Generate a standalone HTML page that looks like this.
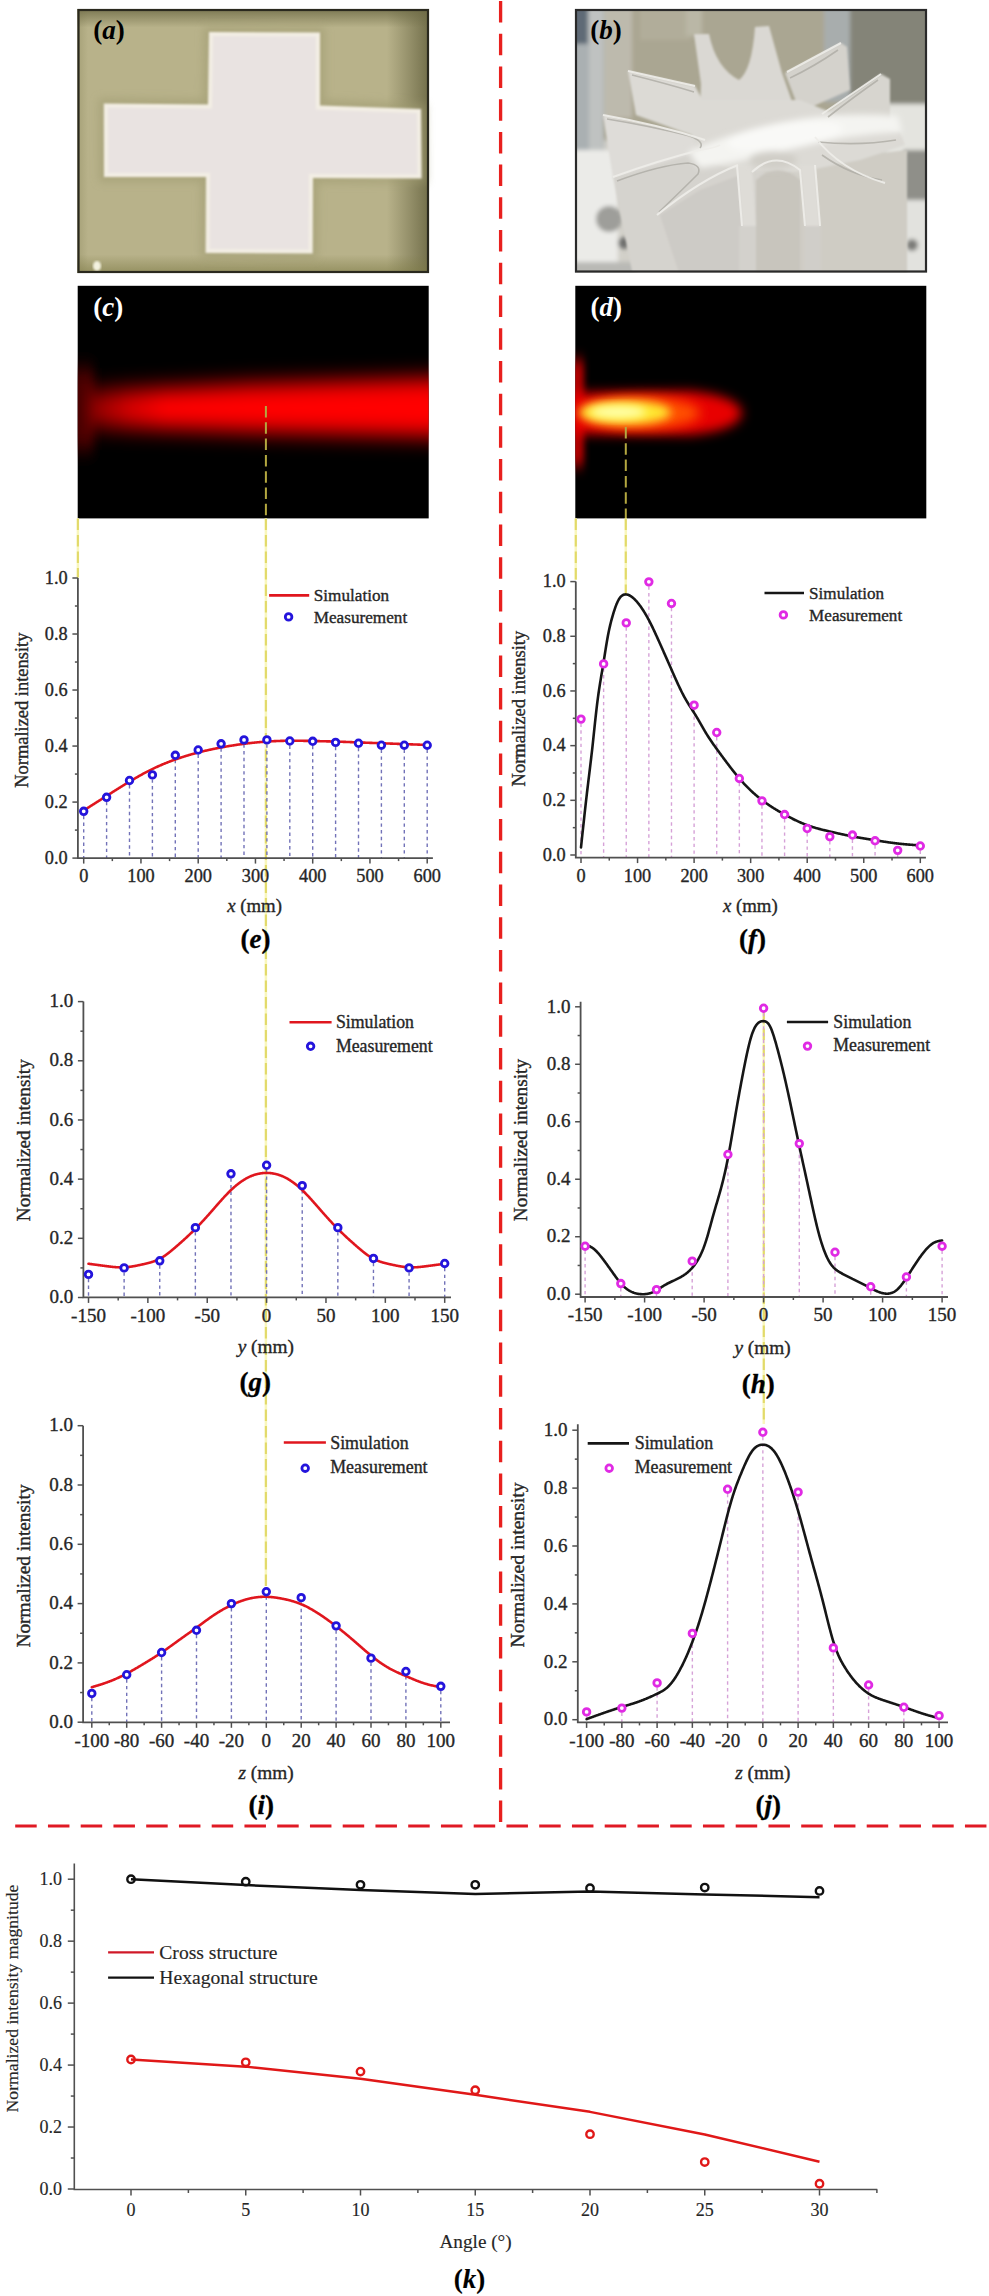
<!DOCTYPE html>
<html><head><meta charset="utf-8"><title>Figure</title>
<style>
html,body{margin:0;padding:0;background:#fff;}
body{width:989px;height:2296px;overflow:hidden;}
svg{display:block;}
text{font-family:"Liberation Serif",serif;} .c text{stroke:#262626;stroke-width:0.35px;paint-order:stroke;} .k text{stroke:#262626;stroke-width:0.15px;paint-order:stroke;}
</style></head><body>
<svg width="989" height="2296" viewBox="0 0 989 2296">

<defs>
 <linearGradient id="pa_bg" x1="0" y1="0" x2="1" y2="0">
  <stop offset="0" stop-color="#a5a27a"/><stop offset="0.5" stop-color="#aca97f"/><stop offset="0.88" stop-color="#a29f74"/><stop offset="1" stop-color="#6e6c4c"/>
 </linearGradient>
 <radialGradient id="pa_vig" cx="0.45" cy="0.45" r="0.75">
  <stop offset="0.6" stop-color="#000" stop-opacity="0"/><stop offset="1" stop-color="#2a2a10" stop-opacity="0.35"/>
 </radialGradient>
 <linearGradient id="pb_bg" x1="0" y1="0" x2="1" y2="0">
  <stop offset="0" stop-color="#7f8789"/><stop offset="0.08" stop-color="#a8aaa4"/><stop offset="0.3" stop-color="#b3ae9c"/><stop offset="0.7" stop-color="#bdbab0"/><stop offset="1" stop-color="#c8c7c0"/>
 </linearGradient>
 <linearGradient id="pa_lr" x1="0" y1="0" x2="1" y2="0">
  <stop offset="0" stop-color="#9a966c" stop-opacity="0.6"/><stop offset="0.03" stop-color="#9a966c" stop-opacity="0"/><stop offset="0.88" stop-color="#6e6b48" stop-opacity="0"/><stop offset="1" stop-color="#66633f" stop-opacity="0.85"/>
 </linearGradient>
 <linearGradient id="pa_tb" x1="0" y1="0" x2="0" y2="1">
  <stop offset="0" stop-color="#6c6944" stop-opacity="0.8"/><stop offset="0.07" stop-color="#6c6944" stop-opacity="0"/><stop offset="0.93" stop-color="#7d7a45" stop-opacity="0"/><stop offset="1" stop-color="#7d7a45" stop-opacity="0.6"/>
 </linearGradient>
 <linearGradient id="pb_left" x1="0" y1="0" x2="0.35" y2="1">
  <stop offset="0" stop-color="#55606a"/><stop offset="0.6" stop-color="#8d9598"/><stop offset="1" stop-color="#b4b8b7"/>
 </linearGradient>
 <filter id="blur3" x="-20%" y="-20%" width="140%" height="140%"><feGaussianBlur stdDeviation="3"/></filter>
 <clipPath id="clipb"><rect x="575" y="9" width="352" height="263.5"/></clipPath>
 <linearGradient id="beamc" gradientUnits="userSpaceOnUse" x1="84" y1="0" x2="260" y2="0">
  <stop offset="0" stop-color="#600000"/><stop offset="0.09" stop-color="#a00000"/><stop offset="0.26" stop-color="#d80000"/><stop offset="0.46" stop-color="#ff0000"/><stop offset="1" stop-color="#ff0000"/>
 </linearGradient>
 <filter id="blurc1" x="-50%" y="-50%" width="200%" height="200%"><feGaussianBlur stdDeviation="5 9"/></filter>
 <filter id="blurc2" x="-20%" y="-80%" width="140%" height="260%"><feGaussianBlur stdDeviation="5 10.5"/></filter>
 <filter id="blurd1" x="-50%" y="-50%" width="200%" height="200%"><feGaussianBlur stdDeviation="3 7"/></filter>
 <filter id="blur2" x="-20%" y="-20%" width="140%" height="140%"><feGaussianBlur stdDeviation="2"/></filter>
 <filter id="soft05" x="-20%" y="-20%" width="140%" height="140%"><feGaussianBlur stdDeviation="0.6"/></filter>
 <filter id="soft1" x="-5%" y="-5%" width="110%" height="110%"><feGaussianBlur stdDeviation="1.2"/></filter>
 <filter id="blur4" x="-50%" y="-50%" width="200%" height="200%"><feGaussianBlur stdDeviation="4"/></filter>
 <filter id="blur5" x="-50%" y="-50%" width="200%" height="200%"><feGaussianBlur stdDeviation="5"/></filter>
 <filter id="blur6" x="-50%" y="-50%" width="200%" height="200%"><feGaussianBlur stdDeviation="6"/></filter>
 <filter id="blur8" x="-50%" y="-50%" width="200%" height="200%"><feGaussianBlur stdDeviation="8"/></filter>
 <clipPath id="clipc"><rect x="77.7" y="285.8" width="351" height="232.6"/></clipPath>
 <clipPath id="clipd"><rect x="575.3" y="285.8" width="351" height="232.6"/></clipPath>
</defs>
<rect x="77.5" y="9" width="351.5" height="264" fill="#b8b28a"/>
<rect x="77.5" y="9" width="351.5" height="264" fill="url(#pa_lr)"/>
<rect x="77.5" y="9" width="351.5" height="264" fill="url(#pa_tb)"/>
<g filter="url(#blur4)" opacity="0.55">
<path d="M204,27 L325,27.5 L325,100 L426,104 L426.5,183.5 L318,183 L317.7,258.6 L200.6,258 L201,182 L99,182 L98.8,98.6 L203,99.5 Z" fill="#9e9a70"/>
</g>
<g filter="url(#soft1)">
<path d="M209,32 L320,32.5 L320,105.5 L421,109 L421.6,178.6 L313,178 L312.7,253.6 L205.6,253 L206,177 L104,177 L103.8,103.6 L208,104.5 Z" fill="#f3eee4"/>
<path d="M213,36 L316,36.5 L316,109.5 L417,113 L417.6,174.6 L309,174 L308.7,249.6 L209.6,249 L210,173 L108,173 L107.8,107.6 L212,108.5 Z" fill="#e9e3e1"/>
</g>
<ellipse cx="97" cy="266" rx="4" ry="5" fill="#f4f2e0" filter="url(#soft1)"/>
<rect x="78.5" y="10" width="349.5" height="262" fill="none" stroke="#2a291e" stroke-width="2.2"/>
<g clip-path="url(#clipb)">
<rect x="575" y="9" width="352" height="263.5" fill="#d2d0c9"/>
<g filter="url(#blur2)">
<rect x="598" y="0" width="256" height="140" fill="#aaa692"/>
<rect x="602" y="0" width="30" height="118" fill="#bdbaad"/>
<rect x="640" y="0" width="50" height="40" fill="#b1ad9a"/>
<rect x="686" y="0" width="16" height="36" fill="#bab7a6"/>
<rect x="824" y="0" width="28" height="102" fill="#a8adad"/>
<rect x="850" y="0" width="90" height="108" fill="#848478"/>
<rect x="886" y="104" width="50" height="50" fill="#e4e4df"/>
<rect x="904" y="150" width="30" height="52" fill="#8f8f89"/>
<rect x="904" y="200" width="30" height="80" fill="#e2e2de"/>
<circle cx="912" cy="245" r="6" fill="#7c7c78"/>
<rect x="570" y="0" width="34" height="154" fill="#aab0b2"/>
<rect x="589" y="0" width="14" height="154" fill="#bfc2c1"/>
<rect x="570" y="0" width="18" height="44" fill="#5e6a76"/>
<rect x="570" y="150" width="48" height="130" fill="#ebebe8"/>
<ellipse cx="609" cy="219" rx="13" ry="13" fill="#9e9e9a"/>
<circle cx="624" cy="243" r="6" fill="#70706e"/>
<rect x="570" y="262" width="66" height="14" fill="#b9b9b5"/>
</g>
<g filter="url(#soft1)">
<path d="M785,73 L841,43 L847,47 L850,90 L800,112 Z" fill="#d4d2cc"/>
<path d="M822,115 L881,74 L890,79 L890,127 L850,137 Z" fill="#d7d5cf"/>
<path d="M628,71 L695,86 L705,105 L705,140 L636,115 Z" fill="#dcdad5"/>
<path d="M603,115 L680,132 L712,145 L700,160 L613,178 Z" fill="#dedcd8"/>
<path d="M613,177 L700,152 L765,160 L758,276 L633,276 Z" fill="#d5d3ce"/>
<path d="M660,215 L700,190 L740,175 L745,276 L680,276 Z" fill="#cdcbc6"/>
<path d="M800,165 L907,150 L907,276 L800,276 Z" fill="#cfccc4"/>
<path d="M694,34 L709,34 Q716,68 739,80 Q752,70 755,27 L769,26 L782,73 L795,110 L700,110 L701,84 Z" fill="#dad8d3"/>
<path d="M700,100 L800,100 L850,120 L900,132 L905,145 L860,160 L800,172 L740,170 L700,160 L690,130 Z" fill="#dcdad5"/>
<path d="M756,180 Q778,160 800,180 L800,276 L756,276 Z" fill="#c8c5bd"/>
<path d="M737,165 L752,165 L756,226 L742,226 Z" fill="#dedcd7"/>
<path d="M800,165 L815,165 L820,226 L805,226 Z" fill="#dedcd7"/>
<rect x="739" y="226" width="17" height="50" fill="#d3d1cc"/>
<rect x="804" y="226" width="17" height="50" fill="#d0cec9"/>
</g>
<g filter="url(#blur3)">
<path d="M688,152 Q740,128 800,119 Q850,112 898,116 L902,132 Q850,134 800,147 Q750,160 700,168 Z" fill="#f4f4f1"/>
<ellipse cx="785" cy="136" rx="58" ry="13" fill="#f9f9f7" transform="rotate(-8 785 136)"/>
<ellipse cx="773" cy="160" rx="24" ry="9" fill="#d0cec7"/>
</g>
<g fill="none" stroke="#aeaca5" stroke-width="1.6" opacity="0.8" filter="url(#soft05)">
<path d="M617,181 Q660,165 688,163 Q702,165 698,174 Q680,192 659,212"/>
<path d="M607,119 Q650,126 690,136 Q705,142 700,148"/>
<path d="M632,75 Q668,84 694,92"/>
<path d="M818,142 Q860,146 896,140 M822,155 Q850,175 882,180"/>
<path d="M790,78 Q815,66 838,50 M828,117 Q855,96 878,80"/>
</g>
<g fill="none" stroke="#efeeea" stroke-width="2" opacity="0.9" filter="url(#soft05)">
<path d="M628,71 L695,86"/><path d="M603,115 Q660,125 705,140"/>
<path d="M613,177 Q660,160 700,150 Q715,148 720,145"/>
<path d="M657,215 Q700,180 738,165"/>
<path d="M841,43 L787,72"/><path d="M881,74 L822,114"/>
<path d="M815,137 Q840,170 885,183"/>
<path d="M737,165 L742,226 M752,172 Q775,150 800,170 L805,226 M815,165 L820,226"/>
</g>
</g>
<rect x="576" y="10" width="350" height="261.5" fill="none" stroke="#2a2a2a" stroke-width="2.2"/>
<rect x="77.7" y="285.8" width="351" height="232.6" fill="#000"/>
<g clip-path="url(#clipc)">
<rect x="70" y="368" width="24" height="82" fill="#480000" filter="url(#blurc1)"/>
<path d="M84,391 L170,388 L250,384 L440,378 L440,437 L250,432 L170,429 L84,427 Z" fill="url(#beamc)" filter="url(#blurc2)"/>
</g>
<rect x="575.3" y="285.8" width="351" height="232.6" fill="#000"/>
<g clip-path="url(#clipd)">
<rect x="568" y="360" width="16" height="106" fill="#b00000" filter="url(#blurd1)"/>
<path d="M570,393 L690,391 Q740,396 742,413 Q740,430 690,435 L570,434 Z" fill="#e80000" filter="url(#blur6)"/>
<ellipse cx="640" cy="413" rx="60" ry="16" fill="#ff5000" filter="url(#blur6)"/>
<ellipse cx="625" cy="412.5" rx="46" ry="12" fill="#ffe830" filter="url(#blur5)"/>
<ellipse cx="618" cy="412" rx="28" ry="6.5" fill="#ffffa8" filter="url(#blur4)"/>
</g>
<text x="93.2" y="39" font-size="27" font-weight="bold" fill="#000">(<tspan font-style="italic">a</tspan>)</text>
<text x="590.3" y="39" font-size="27" font-weight="bold" fill="#000">(<tspan font-style="italic">b</tspan>)</text>
<text x="93.3" y="316" font-size="27" font-weight="bold" fill="#fff">(<tspan font-style="italic">c</tspan>)</text>
<text x="590.6" y="316" font-size="27" font-weight="bold" fill="#fff">(<tspan font-style="italic">d</tspan>)</text>
<line x1="265.9" y1="406" x2="265.9" y2="518.4" stroke="#b4a840" stroke-width="2" stroke-dasharray="11.5 4.8"/>
<line x1="265.9" y1="518.4" x2="265.9" y2="1586" stroke="#f9f7bc" stroke-width="2.5"/>
<line x1="265.9" y1="518.4" x2="265.9" y2="1586" stroke="#e2da6a" stroke-width="2.1" stroke-dasharray="11.5 5"/>
<line x1="77.9" y1="518.4" x2="77.9" y2="577.5" stroke="#f9f7bc" stroke-width="2.5"/>
<line x1="77.9" y1="518.4" x2="77.9" y2="577.5" stroke="#e2da6a" stroke-width="2.1" stroke-dasharray="11.5 5"/>
<line x1="575.8" y1="518.4" x2="575.8" y2="580" stroke="#f9f7bc" stroke-width="2.5"/>
<line x1="575.8" y1="518.4" x2="575.8" y2="580" stroke="#e2da6a" stroke-width="2.1" stroke-dasharray="11.5 5"/>
<line x1="625.8" y1="427" x2="625.8" y2="518.4" stroke="#b4a840" stroke-width="2" stroke-dasharray="11.5 4.8"/>
<line x1="625.8" y1="518.4" x2="625.8" y2="595" stroke="#f9f7bc" stroke-width="2.5"/>
<line x1="625.8" y1="518.4" x2="625.8" y2="595" stroke="#e2da6a" stroke-width="2.1" stroke-dasharray="11.5 5"/>
<line x1="763.8" y1="1012" x2="763.8" y2="1424" stroke="#f9f7bc" stroke-width="2.5"/>
<line x1="763.8" y1="1012" x2="763.8" y2="1424" stroke="#e2da6a" stroke-width="2.1" stroke-dasharray="11.5 5"/>
<g class="c">
<line x1="83.7" y1="815.82" x2="83.7" y2="858.1" stroke="#7272b8" stroke-width="1.4" stroke-dasharray="3.4 3.3"/>
<line x1="106.6" y1="801.82" x2="106.6" y2="858.1" stroke="#7272b8" stroke-width="1.4" stroke-dasharray="3.4 3.3"/>
<line x1="129.5" y1="785.01" x2="129.5" y2="858.1" stroke="#7272b8" stroke-width="1.4" stroke-dasharray="3.4 3.3"/>
<line x1="152.4" y1="779.41" x2="152.4" y2="858.1" stroke="#7272b8" stroke-width="1.4" stroke-dasharray="3.4 3.3"/>
<line x1="175.3" y1="759.8" x2="175.3" y2="858.1" stroke="#7272b8" stroke-width="1.4" stroke-dasharray="3.4 3.3"/>
<line x1="198.2" y1="754.48" x2="198.2" y2="858.1" stroke="#7272b8" stroke-width="1.4" stroke-dasharray="3.4 3.3"/>
<line x1="221.1" y1="748.32" x2="221.1" y2="858.1" stroke="#7272b8" stroke-width="1.4" stroke-dasharray="3.4 3.3"/>
<line x1="244" y1="744.4" x2="244" y2="858.1" stroke="#7272b8" stroke-width="1.4" stroke-dasharray="3.4 3.3"/>
<line x1="266.9" y1="744.4" x2="266.9" y2="858.1" stroke="#7272b8" stroke-width="1.4" stroke-dasharray="3.4 3.3"/>
<line x1="289.8" y1="745.52" x2="289.8" y2="858.1" stroke="#7272b8" stroke-width="1.4" stroke-dasharray="3.4 3.3"/>
<line x1="312.7" y1="745.8" x2="312.7" y2="858.1" stroke="#7272b8" stroke-width="1.4" stroke-dasharray="3.4 3.3"/>
<line x1="335.6" y1="746.92" x2="335.6" y2="858.1" stroke="#7272b8" stroke-width="1.4" stroke-dasharray="3.4 3.3"/>
<line x1="358.5" y1="747.76" x2="358.5" y2="858.1" stroke="#7272b8" stroke-width="1.4" stroke-dasharray="3.4 3.3"/>
<line x1="381.4" y1="749.72" x2="381.4" y2="858.1" stroke="#7272b8" stroke-width="1.4" stroke-dasharray="3.4 3.3"/>
<line x1="404.3" y1="749.72" x2="404.3" y2="858.1" stroke="#7272b8" stroke-width="1.4" stroke-dasharray="3.4 3.3"/>
<line x1="427.2" y1="749.72" x2="427.2" y2="858.1" stroke="#7272b8" stroke-width="1.4" stroke-dasharray="3.4 3.3"/>
<path d="M77.9,578 V858.1 H432.9" fill="none" stroke="#505050" stroke-width="1.8"/>
<line x1="72.4" y1="858.1" x2="77.9" y2="858.1" stroke="#505050" stroke-width="1.5"/>
<text x="67.7" y="863.8" text-anchor="end" font-size="18.3" fill="#262626">0.0</text>
<line x1="74.9" y1="830.09" x2="77.9" y2="830.09" stroke="#505050" stroke-width="1.5"/>
<line x1="72.4" y1="802.08" x2="77.9" y2="802.08" stroke="#505050" stroke-width="1.5"/>
<text x="67.7" y="807.78" text-anchor="end" font-size="18.3" fill="#262626">0.2</text>
<line x1="74.9" y1="774.07" x2="77.9" y2="774.07" stroke="#505050" stroke-width="1.5"/>
<line x1="72.4" y1="746.06" x2="77.9" y2="746.06" stroke="#505050" stroke-width="1.5"/>
<text x="67.7" y="751.76" text-anchor="end" font-size="18.3" fill="#262626">0.4</text>
<line x1="74.9" y1="718.05" x2="77.9" y2="718.05" stroke="#505050" stroke-width="1.5"/>
<line x1="72.4" y1="690.04" x2="77.9" y2="690.04" stroke="#505050" stroke-width="1.5"/>
<text x="67.7" y="695.74" text-anchor="end" font-size="18.3" fill="#262626">0.6</text>
<line x1="74.9" y1="662.03" x2="77.9" y2="662.03" stroke="#505050" stroke-width="1.5"/>
<line x1="72.4" y1="634.02" x2="77.9" y2="634.02" stroke="#505050" stroke-width="1.5"/>
<text x="67.7" y="639.72" text-anchor="end" font-size="18.3" fill="#262626">0.8</text>
<line x1="74.9" y1="606.01" x2="77.9" y2="606.01" stroke="#505050" stroke-width="1.5"/>
<line x1="72.4" y1="578" x2="77.9" y2="578" stroke="#505050" stroke-width="1.5"/>
<text x="67.7" y="583.7" text-anchor="end" font-size="18.3" fill="#262626">1.0</text>
<line x1="83.7" y1="858.1" x2="83.7" y2="863.6" stroke="#505050" stroke-width="1.5"/>
<text x="83.7" y="882.4" text-anchor="middle" font-size="18.3" fill="#262626">0</text>
<line x1="140.95" y1="858.1" x2="140.95" y2="863.6" stroke="#505050" stroke-width="1.5"/>
<text x="140.95" y="882.4" text-anchor="middle" font-size="18.3" fill="#262626">100</text>
<line x1="198.2" y1="858.1" x2="198.2" y2="863.6" stroke="#505050" stroke-width="1.5"/>
<text x="198.2" y="882.4" text-anchor="middle" font-size="18.3" fill="#262626">200</text>
<line x1="255.45" y1="858.1" x2="255.45" y2="863.6" stroke="#505050" stroke-width="1.5"/>
<text x="255.45" y="882.4" text-anchor="middle" font-size="18.3" fill="#262626">300</text>
<line x1="312.7" y1="858.1" x2="312.7" y2="863.6" stroke="#505050" stroke-width="1.5"/>
<text x="312.7" y="882.4" text-anchor="middle" font-size="18.3" fill="#262626">400</text>
<line x1="369.95" y1="858.1" x2="369.95" y2="863.6" stroke="#505050" stroke-width="1.5"/>
<text x="369.95" y="882.4" text-anchor="middle" font-size="18.3" fill="#262626">500</text>
<line x1="427.2" y1="858.1" x2="427.2" y2="863.6" stroke="#505050" stroke-width="1.5"/>
<text x="427.2" y="882.4" text-anchor="middle" font-size="18.3" fill="#262626">600</text>
<line x1="112.33" y1="858.1" x2="112.33" y2="861.1" stroke="#505050" stroke-width="1.5"/>
<line x1="169.57" y1="858.1" x2="169.57" y2="861.1" stroke="#505050" stroke-width="1.5"/>
<line x1="226.82" y1="858.1" x2="226.82" y2="861.1" stroke="#505050" stroke-width="1.5"/>
<line x1="284.07" y1="858.1" x2="284.07" y2="861.1" stroke="#505050" stroke-width="1.5"/>
<line x1="341.32" y1="858.1" x2="341.32" y2="861.1" stroke="#505050" stroke-width="1.5"/>
<line x1="398.57" y1="858.1" x2="398.57" y2="861.1" stroke="#505050" stroke-width="1.5"/>
<path d="M83.7,810.48 L84.2,810.16 L84.7,809.85 L85.2,809.53 L85.7,809.21 L86.2,808.89 L86.7,808.57 L87.21,808.25 L87.71,807.93 L88.21,807.62 L88.71,807.3 L89.21,806.98 L89.71,806.66 L90.21,806.34 L90.71,806.02 L91.21,805.7 L91.71,805.39 L92.21,805.07 L92.71,804.75 L93.21,804.43 L93.71,804.11 L94.22,803.79 L94.72,803.48 L95.22,803.16 L95.72,802.84 L96.22,802.52 L96.72,802.2 L97.22,801.88 L97.72,801.56 L98.22,801.25 L98.72,800.93 L99.22,800.61 L99.72,800.29 L100.22,799.97 L100.72,799.65 L101.23,799.34 L101.73,799.02 L102.23,798.7 L102.73,798.38 L103.23,798.06 L103.73,797.74 L104.23,797.42 L104.73,797.11 L105.23,796.79 L105.73,796.47 L106.23,796.15 L106.73,795.83 L107.23,795.51 L107.73,795.2 L108.24,794.88 L108.74,794.56 L109.24,794.24 L109.74,793.92 L110.24,793.61 L110.74,793.29 L111.24,792.97 L111.74,792.65 L112.24,792.34 L112.74,792.02 L113.24,791.7 L113.74,791.38 L114.24,791.07 L114.75,790.75 L115.25,790.44 L115.75,790.12 L116.25,789.81 L116.75,789.49 L117.25,789.18 L117.75,788.86 L118.25,788.55 L118.75,788.23 L119.25,787.92 L119.75,787.61 L120.25,787.3 L120.75,786.99 L121.25,786.67 L121.76,786.36 L122.26,786.05 L122.76,785.74 L123.26,785.43 L123.76,785.13 L124.26,784.82 L124.76,784.51 L125.26,784.2 L125.76,783.9 L126.26,783.59 L126.76,783.29 L127.26,782.98 L127.76,782.68 L128.26,782.38 L128.77,782.07 L129.27,781.77 L129.77,781.47 L130.27,781.17 L130.77,780.87 L131.27,780.58 L131.77,780.28 L132.27,779.98 L132.77,779.69 L133.27,779.39 L133.77,779.1 L134.27,778.81 L134.77,778.51 L135.28,778.22 L135.78,777.93 L136.28,777.64 L136.78,777.36 L137.28,777.07 L137.78,776.78 L138.28,776.5 L138.78,776.22 L139.28,775.93 L139.78,775.65 L140.28,775.37 L140.78,775.1 L141.28,774.82 L141.78,774.54 L142.29,774.27 L142.79,773.99 L143.29,773.72 L143.79,773.45 L144.29,773.18 L144.79,772.91 L145.29,772.65 L145.79,772.38 L146.29,772.12 L146.79,771.86 L147.29,771.6 L147.79,771.34 L148.29,771.08 L148.79,770.82 L149.3,770.57 L149.8,770.32 L150.3,770.07 L150.8,769.82 L151.3,769.57 L151.8,769.32 L152.3,769.08 L152.8,768.83 L153.3,768.59 L153.8,768.35 L154.3,768.12 L154.8,767.88 L155.3,767.65 L155.8,767.41 L156.31,767.18 L156.81,766.95 L157.31,766.73 L157.81,766.5 L158.31,766.27 L158.81,766.05 L159.31,765.83 L159.81,765.61 L160.31,765.39 L160.81,765.18 L161.31,764.96 L161.81,764.75 L162.31,764.53 L162.82,764.32 L163.32,764.11 L163.82,763.91 L164.32,763.7 L164.82,763.49 L165.32,763.29 L165.82,763.09 L166.32,762.89 L166.82,762.69 L167.32,762.49 L167.82,762.29 L168.32,762.1 L168.82,761.9 L169.32,761.71 L169.83,761.52 L170.33,761.33 L170.83,761.14 L171.33,760.95 L171.83,760.77 L172.33,760.58 L172.83,760.4 L173.33,760.21 L173.83,760.03 L174.33,759.85 L174.83,759.67 L175.33,759.49 L175.83,759.32 L176.33,759.14 L176.84,758.96 L177.34,758.79 L177.84,758.62 L178.34,758.45 L178.84,758.28 L179.34,758.11 L179.84,757.94 L180.34,757.77 L180.84,757.61 L181.34,757.44 L181.84,757.28 L182.34,757.11 L182.84,756.95 L183.35,756.79 L183.85,756.63 L184.35,756.47 L184.85,756.32 L185.35,756.16 L185.85,756 L186.35,755.85 L186.85,755.7 L187.35,755.55 L187.85,755.39 L188.35,755.24 L188.85,755.1 L189.35,754.95 L189.85,754.8 L190.36,754.65 L190.86,754.51 L191.36,754.37 L191.86,754.22 L192.36,754.08 L192.86,753.94 L193.36,753.8 L193.86,753.66 L194.36,753.52 L194.86,753.39 L195.36,753.25 L195.86,753.12 L196.36,752.98 L196.86,752.85 L197.37,752.72 L197.87,752.59 L198.37,752.46 L198.87,752.33 L199.37,752.2 L199.87,752.08 L200.37,751.95 L200.87,751.82 L201.37,751.7 L201.87,751.58 L202.37,751.46 L202.87,751.33 L203.37,751.21 L203.87,751.09 L204.38,750.98 L204.88,750.86 L205.38,750.74 L205.88,750.62 L206.38,750.51 L206.88,750.4 L207.38,750.28 L207.88,750.17 L208.38,750.06 L208.88,749.95 L209.38,749.84 L209.88,749.73 L210.38,749.62 L210.89,749.51 L211.39,749.4 L211.89,749.3 L212.39,749.19 L212.89,749.08 L213.39,748.98 L213.89,748.88 L214.39,748.77 L214.89,748.67 L215.39,748.57 L215.89,748.47 L216.39,748.37 L216.89,748.27 L217.39,748.17 L217.9,748.07 L218.4,747.98 L218.9,747.88 L219.4,747.78 L219.9,747.69 L220.4,747.59 L220.9,747.5 L221.4,747.4 L221.9,747.31 L222.4,747.22 L222.9,747.13 L223.4,747.04 L223.9,746.94 L224.4,746.85 L224.91,746.76 L225.41,746.68 L225.91,746.59 L226.41,746.5 L226.91,746.41 L227.41,746.33 L227.91,746.24 L228.41,746.15 L228.91,746.07 L229.41,745.99 L229.91,745.9 L230.41,745.82 L230.91,745.74 L231.42,745.66 L231.92,745.57 L232.42,745.49 L232.92,745.41 L233.42,745.34 L233.92,745.26 L234.42,745.18 L234.92,745.1 L235.42,745.03 L235.92,744.95 L236.42,744.87 L236.92,744.8 L237.42,744.73 L237.92,744.65 L238.43,744.58 L238.93,744.51 L239.43,744.44 L239.93,744.37 L240.43,744.3 L240.93,744.23 L241.43,744.16 L241.93,744.09 L242.43,744.03 L242.93,743.96 L243.43,743.89 L243.93,743.83 L244.43,743.76 L244.93,743.7 L245.44,743.64 L245.94,743.57 L246.44,743.51 L246.94,743.45 L247.44,743.39 L247.94,743.33 L248.44,743.27 L248.94,743.22 L249.44,743.16 L249.94,743.1 L250.44,743.04 L250.94,742.99 L251.44,742.93 L251.94,742.88 L252.45,742.83 L252.95,742.77 L253.45,742.72 L253.95,742.67 L254.45,742.62 L254.95,742.57 L255.45,742.52 L255.95,742.47 L256.45,742.42 L256.95,742.38 L257.45,742.33 L257.95,742.28 L258.45,742.24 L258.96,742.19 L259.46,742.15 L259.96,742.11 L260.46,742.07 L260.96,742.02 L261.46,741.98 L261.96,741.94 L262.46,741.9 L262.96,741.86 L263.46,741.82 L263.96,741.79 L264.46,741.75 L264.96,741.71 L265.46,741.68 L265.97,741.64 L266.47,741.61 L266.97,741.57 L267.47,741.54 L267.97,741.51 L268.47,741.48 L268.97,741.45 L269.47,741.42 L269.97,741.39 L270.47,741.36 L270.97,741.33 L271.47,741.3 L271.97,741.27 L272.47,741.25 L272.98,741.22 L273.48,741.2 L273.98,741.17 L274.48,741.15 L274.98,741.13 L275.48,741.1 L275.98,741.08 L276.48,741.06 L276.98,741.04 L277.48,741.02 L277.98,741 L278.48,740.98 L278.98,740.96 L279.48,740.95 L279.99,740.93 L280.49,740.91 L280.99,740.9 L281.49,740.88 L281.99,740.87 L282.49,740.86 L282.99,740.85 L283.49,740.83 L283.99,740.82 L284.49,740.81 L284.99,740.8 L285.49,740.79 L285.99,740.78 L286.5,740.78 L287,740.77 L287.5,740.76 L288,740.75 L288.5,740.75 L289,740.74 L289.5,740.74 L290,740.74 L290.5,740.73 L291,740.73 L291.5,740.73 L292,740.73 L292.5,740.73 L293,740.73 L293.51,740.73 L294.01,740.73 L294.51,740.73 L295.01,740.73 L295.51,740.74 L296.01,740.74 L296.51,740.74 L297.01,740.75 L297.51,740.75 L298.01,740.76 L298.51,740.76 L299.01,740.77 L299.51,740.77 L300.01,740.78 L300.52,740.79 L301.02,740.79 L301.52,740.8 L302.02,740.81 L302.52,740.82 L303.02,740.82 L303.52,740.83 L304.02,740.84 L304.52,740.85 L305.02,740.86 L305.52,740.87 L306.02,740.88 L306.52,740.89 L307.03,740.9 L307.53,740.91 L308.03,740.92 L308.53,740.93 L309.03,740.94 L309.53,740.95 L310.03,740.96 L310.53,740.97 L311.03,740.98 L311.53,740.99 L312.03,741 L312.53,741.01 L313.03,741.03 L313.53,741.04 L314.04,741.05 L314.54,741.06 L315.04,741.07 L315.54,741.08 L316.04,741.09 L316.54,741.1 L317.04,741.11 L317.54,741.12 L318.04,741.13 L318.54,741.14 L319.04,741.16 L319.54,741.17 L320.04,741.18 L320.54,741.19 L321.05,741.2 L321.55,741.21 L322.05,741.22 L322.55,741.23 L323.05,741.25 L323.55,741.26 L324.05,741.27 L324.55,741.28 L325.05,741.29 L325.55,741.3 L326.05,741.32 L326.55,741.33 L327.05,741.34 L327.55,741.35 L328.06,741.37 L328.56,741.38 L329.06,741.39 L329.56,741.41 L330.06,741.42 L330.56,741.43 L331.06,741.45 L331.56,741.46 L332.06,741.47 L332.56,741.49 L333.06,741.5 L333.56,741.52 L334.06,741.53 L334.57,741.55 L335.07,741.56 L335.57,741.58 L336.07,741.59 L336.57,741.61 L337.07,741.62 L337.57,741.64 L338.07,741.66 L338.57,741.67 L339.07,741.69 L339.57,741.71 L340.07,741.72 L340.57,741.74 L341.07,741.76 L341.58,741.78 L342.08,741.79 L342.58,741.81 L343.08,741.83 L343.58,741.85 L344.08,741.87 L344.58,741.89 L345.08,741.9 L345.58,741.92 L346.08,741.94 L346.58,741.96 L347.08,741.98 L347.58,742 L348.08,742.02 L348.59,742.04 L349.09,742.06 L349.59,742.07 L350.09,742.09 L350.59,742.11 L351.09,742.13 L351.59,742.15 L352.09,742.17 L352.59,742.19 L353.09,742.21 L353.59,742.23 L354.09,742.25 L354.59,742.27 L355.1,742.29 L355.6,742.31 L356.1,742.33 L356.6,742.35 L357.1,742.36 L357.6,742.38 L358.1,742.4 L358.6,742.42 L359.1,742.44 L359.6,742.46 L360.1,742.48 L360.6,742.5 L361.1,742.52 L361.6,742.54 L362.11,742.56 L362.61,742.57 L363.11,742.59 L363.61,742.61 L364.11,742.63 L364.61,742.65 L365.11,742.67 L365.61,742.69 L366.11,742.7 L366.61,742.72 L367.11,742.74 L367.61,742.76 L368.11,742.78 L368.61,742.8 L369.12,742.81 L369.62,742.83 L370.12,742.85 L370.62,742.87 L371.12,742.89 L371.62,742.91 L372.12,742.92 L372.62,742.94 L373.12,742.96 L373.62,742.98 L374.12,743 L374.62,743.01 L375.12,743.03 L375.62,743.05 L376.13,743.07 L376.63,743.09 L377.13,743.1 L377.63,743.12 L378.13,743.14 L378.63,743.16 L379.13,743.18 L379.63,743.19 L380.13,743.21 L380.63,743.23 L381.13,743.25 L381.63,743.27 L382.13,743.29 L382.64,743.3 L383.14,743.32 L383.64,743.34 L384.14,743.36 L384.64,743.38 L385.14,743.4 L385.64,743.41 L386.14,743.43 L386.64,743.45 L387.14,743.47 L387.64,743.49 L388.14,743.5 L388.64,743.52 L389.14,743.54 L389.65,743.56 L390.15,743.58 L390.65,743.6 L391.15,743.62 L391.65,743.63 L392.15,743.65 L392.65,743.67 L393.15,743.69 L393.65,743.71 L394.15,743.73 L394.65,743.74 L395.15,743.76 L395.65,743.78 L396.15,743.8 L396.66,743.82 L397.16,743.84 L397.66,743.85 L398.16,743.87 L398.66,743.89 L399.16,743.91 L399.66,743.93 L400.16,743.95 L400.66,743.97 L401.16,743.98 L401.66,744 L402.16,744.02 L402.66,744.04 L403.17,744.06 L403.67,744.08 L404.17,744.09 L404.67,744.11 L405.17,744.13 L405.67,744.15 L406.17,744.17 L406.67,744.19 L407.17,744.2 L407.67,744.22 L408.17,744.24 L408.67,744.26 L409.17,744.28 L409.67,744.3 L410.18,744.32 L410.68,744.33 L411.18,744.35 L411.68,744.37 L412.18,744.39 L412.68,744.41 L413.18,744.43 L413.68,744.44 L414.18,744.46 L414.68,744.48 L415.18,744.5 L415.68,744.52 L416.18,744.54 L416.68,744.55 L417.19,744.57 L417.69,744.59 L418.19,744.61 L418.69,744.63 L419.19,744.65 L419.69,744.66 L420.19,744.68 L420.69,744.7 L421.19,744.72 L421.69,744.74 L422.19,744.76 L422.69,744.77 L423.19,744.79 L423.69,744.81 L424.2,744.83 L424.7,744.85 L425.2,744.87 L425.7,744.88 L426.2,744.9 L426.7,744.92 L427.2,744.94" fill="none" stroke="#e0161e" stroke-width="2.6" stroke-linejoin="round" stroke-linecap="round"/>
<circle cx="83.7" cy="811.32" r="3.3" fill="#fff" stroke="#2414dc" stroke-width="2.8"/>
<circle cx="106.6" cy="797.32" r="3.3" fill="#fff" stroke="#2414dc" stroke-width="2.8"/>
<circle cx="129.5" cy="780.51" r="3.3" fill="#fff" stroke="#2414dc" stroke-width="2.8"/>
<circle cx="152.4" cy="774.91" r="3.3" fill="#fff" stroke="#2414dc" stroke-width="2.8"/>
<circle cx="175.3" cy="755.3" r="3.3" fill="#fff" stroke="#2414dc" stroke-width="2.8"/>
<circle cx="198.2" cy="749.98" r="3.3" fill="#fff" stroke="#2414dc" stroke-width="2.8"/>
<circle cx="221.1" cy="743.82" r="3.3" fill="#fff" stroke="#2414dc" stroke-width="2.8"/>
<circle cx="244" cy="739.9" r="3.3" fill="#fff" stroke="#2414dc" stroke-width="2.8"/>
<circle cx="266.9" cy="739.9" r="3.3" fill="#fff" stroke="#2414dc" stroke-width="2.8"/>
<circle cx="289.8" cy="741.02" r="3.3" fill="#fff" stroke="#2414dc" stroke-width="2.8"/>
<circle cx="312.7" cy="741.3" r="3.3" fill="#fff" stroke="#2414dc" stroke-width="2.8"/>
<circle cx="335.6" cy="742.42" r="3.3" fill="#fff" stroke="#2414dc" stroke-width="2.8"/>
<circle cx="358.5" cy="743.26" r="3.3" fill="#fff" stroke="#2414dc" stroke-width="2.8"/>
<circle cx="381.4" cy="745.22" r="3.3" fill="#fff" stroke="#2414dc" stroke-width="2.8"/>
<circle cx="404.3" cy="745.22" r="3.3" fill="#fff" stroke="#2414dc" stroke-width="2.8"/>
<circle cx="427.2" cy="745.22" r="3.3" fill="#fff" stroke="#2414dc" stroke-width="2.8"/>
<line x1="269.1" y1="595.4" x2="309.2" y2="595.4" stroke="#e0161e" stroke-width="2.6"/>
<text x="313.7" y="601.4" font-size="17.2" fill="#262626">Simulation</text>
<circle cx="288.6" cy="616.9" r="3.3" fill="#fff" stroke="#2414dc" stroke-width="2.8"/>
<text x="313.7" y="622.7" font-size="17.2" fill="#262626">Measurement</text>
<text transform="translate(27.5,710.2) rotate(-90)" text-anchor="middle" font-size="18.45" fill="#262626">Normalized intensity</text>
<text x="254.6" y="911.8" text-anchor="middle" font-size="18.8" fill="#262626"><tspan font-style="italic">x</tspan> (mm)</text>
<text x="255.5" y="948" text-anchor="middle" font-size="27" font-weight="bold" fill="#000">(<tspan font-style="italic">e</tspan>)</text>
<line x1="581" y1="723.62" x2="581" y2="857.6" stroke="#d6a2d8" stroke-width="1.4" stroke-dasharray="3.4 3.3"/>
<line x1="603.62" y1="668.39" x2="603.62" y2="857.6" stroke="#d6a2d8" stroke-width="1.4" stroke-dasharray="3.4 3.3"/>
<line x1="626.24" y1="627.38" x2="626.24" y2="857.6" stroke="#d6a2d8" stroke-width="1.4" stroke-dasharray="3.4 3.3"/>
<line x1="648.86" y1="586.37" x2="648.86" y2="857.6" stroke="#d6a2d8" stroke-width="1.4" stroke-dasharray="3.4 3.3"/>
<line x1="671.48" y1="607.97" x2="671.48" y2="857.6" stroke="#d6a2d8" stroke-width="1.4" stroke-dasharray="3.4 3.3"/>
<line x1="694.1" y1="709.68" x2="694.1" y2="857.6" stroke="#d6a2d8" stroke-width="1.4" stroke-dasharray="3.4 3.3"/>
<line x1="716.72" y1="737.02" x2="716.72" y2="857.6" stroke="#d6a2d8" stroke-width="1.4" stroke-dasharray="3.4 3.3"/>
<line x1="739.34" y1="782.95" x2="739.34" y2="857.6" stroke="#d6a2d8" stroke-width="1.4" stroke-dasharray="3.4 3.3"/>
<line x1="761.96" y1="805.37" x2="761.96" y2="857.6" stroke="#d6a2d8" stroke-width="1.4" stroke-dasharray="3.4 3.3"/>
<line x1="784.58" y1="819.04" x2="784.58" y2="857.6" stroke="#d6a2d8" stroke-width="1.4" stroke-dasharray="3.4 3.3"/>
<line x1="807.2" y1="832.98" x2="807.2" y2="857.6" stroke="#d6a2d8" stroke-width="1.4" stroke-dasharray="3.4 3.3"/>
<line x1="829.82" y1="841.18" x2="829.82" y2="857.6" stroke="#d6a2d8" stroke-width="1.4" stroke-dasharray="3.4 3.3"/>
<line x1="852.44" y1="839.54" x2="852.44" y2="857.6" stroke="#d6a2d8" stroke-width="1.4" stroke-dasharray="3.4 3.3"/>
<line x1="875.06" y1="845.28" x2="875.06" y2="857.6" stroke="#d6a2d8" stroke-width="1.4" stroke-dasharray="3.4 3.3"/>
<line x1="897.68" y1="854.85" x2="897.68" y2="857.6" stroke="#d6a2d8" stroke-width="1.4" stroke-dasharray="3.4 3.3"/>
<line x1="920.3" y1="850.48" x2="920.3" y2="857.6" stroke="#d6a2d8" stroke-width="1.4" stroke-dasharray="3.4 3.3"/>
<path d="M575.8,581.6 V857.6 H925.9" fill="none" stroke="#505050" stroke-width="1.8"/>
<line x1="570.3" y1="855" x2="575.8" y2="855" stroke="#505050" stroke-width="1.5"/>
<text x="565.6" y="860.7" text-anchor="end" font-size="18.3" fill="#262626">0.0</text>
<line x1="572.8" y1="827.66" x2="575.8" y2="827.66" stroke="#505050" stroke-width="1.5"/>
<line x1="570.3" y1="800.32" x2="575.8" y2="800.32" stroke="#505050" stroke-width="1.5"/>
<text x="565.6" y="806.02" text-anchor="end" font-size="18.3" fill="#262626">0.2</text>
<line x1="572.8" y1="772.98" x2="575.8" y2="772.98" stroke="#505050" stroke-width="1.5"/>
<line x1="570.3" y1="745.64" x2="575.8" y2="745.64" stroke="#505050" stroke-width="1.5"/>
<text x="565.6" y="751.34" text-anchor="end" font-size="18.3" fill="#262626">0.4</text>
<line x1="572.8" y1="718.3" x2="575.8" y2="718.3" stroke="#505050" stroke-width="1.5"/>
<line x1="570.3" y1="690.96" x2="575.8" y2="690.96" stroke="#505050" stroke-width="1.5"/>
<text x="565.6" y="696.66" text-anchor="end" font-size="18.3" fill="#262626">0.6</text>
<line x1="572.8" y1="663.62" x2="575.8" y2="663.62" stroke="#505050" stroke-width="1.5"/>
<line x1="570.3" y1="636.28" x2="575.8" y2="636.28" stroke="#505050" stroke-width="1.5"/>
<text x="565.6" y="641.98" text-anchor="end" font-size="18.3" fill="#262626">0.8</text>
<line x1="572.8" y1="608.94" x2="575.8" y2="608.94" stroke="#505050" stroke-width="1.5"/>
<line x1="570.3" y1="581.6" x2="575.8" y2="581.6" stroke="#505050" stroke-width="1.5"/>
<text x="565.6" y="587.3" text-anchor="end" font-size="18.3" fill="#262626">1.0</text>
<line x1="581" y1="857.6" x2="581" y2="863.1" stroke="#505050" stroke-width="1.5"/>
<text x="581" y="881.9" text-anchor="middle" font-size="18.3" fill="#262626">0</text>
<line x1="637.55" y1="857.6" x2="637.55" y2="863.1" stroke="#505050" stroke-width="1.5"/>
<text x="637.55" y="881.9" text-anchor="middle" font-size="18.3" fill="#262626">100</text>
<line x1="694.1" y1="857.6" x2="694.1" y2="863.1" stroke="#505050" stroke-width="1.5"/>
<text x="694.1" y="881.9" text-anchor="middle" font-size="18.3" fill="#262626">200</text>
<line x1="750.65" y1="857.6" x2="750.65" y2="863.1" stroke="#505050" stroke-width="1.5"/>
<text x="750.65" y="881.9" text-anchor="middle" font-size="18.3" fill="#262626">300</text>
<line x1="807.2" y1="857.6" x2="807.2" y2="863.1" stroke="#505050" stroke-width="1.5"/>
<text x="807.2" y="881.9" text-anchor="middle" font-size="18.3" fill="#262626">400</text>
<line x1="863.75" y1="857.6" x2="863.75" y2="863.1" stroke="#505050" stroke-width="1.5"/>
<text x="863.75" y="881.9" text-anchor="middle" font-size="18.3" fill="#262626">500</text>
<line x1="920.3" y1="857.6" x2="920.3" y2="863.1" stroke="#505050" stroke-width="1.5"/>
<text x="920.3" y="881.9" text-anchor="middle" font-size="18.3" fill="#262626">600</text>
<line x1="609.27" y1="857.6" x2="609.27" y2="860.6" stroke="#505050" stroke-width="1.5"/>
<line x1="665.83" y1="857.6" x2="665.83" y2="860.6" stroke="#505050" stroke-width="1.5"/>
<line x1="722.38" y1="857.6" x2="722.38" y2="860.6" stroke="#505050" stroke-width="1.5"/>
<line x1="778.92" y1="857.6" x2="778.92" y2="860.6" stroke="#505050" stroke-width="1.5"/>
<line x1="835.48" y1="857.6" x2="835.48" y2="860.6" stroke="#505050" stroke-width="1.5"/>
<line x1="892.02" y1="857.6" x2="892.02" y2="860.6" stroke="#505050" stroke-width="1.5"/>
<path d="M581,847.34 L581.5,842.63 L582,837.92 L582.5,833.22 L583,828.54 L583.51,823.89 L584.01,819.27 L584.51,814.68 L585.01,810.13 L585.51,805.64 L586.01,801.2 L586.51,796.82 L587.01,792.51 L587.52,788.27 L588.02,784.09 L588.52,779.96 L589.02,775.85 L589.52,771.74 L590.02,767.62 L590.52,763.46 L591.02,759.25 L591.52,754.95 L592.03,750.57 L592.53,746.06 L593.03,741.44 L593.53,736.73 L594.03,731.97 L594.53,727.21 L595.03,722.47 L595.53,717.81 L596.04,713.26 L596.54,708.86 L597.04,704.64 L597.54,700.64 L598.04,696.87 L598.54,693.28 L599.04,689.86 L599.54,686.58 L600.04,683.42 L600.55,680.34 L601.05,677.32 L601.55,674.34 L602.05,671.37 L602.55,668.38 L603.05,665.35 L603.55,662.25 L604.05,659.11 L604.56,655.94 L605.06,652.77 L605.56,649.62 L606.06,646.52 L606.56,643.49 L607.06,640.55 L607.56,637.73 L608.06,635.06 L608.56,632.52 L609.07,630.1 L609.57,627.81 L610.07,625.62 L610.57,623.54 L611.07,621.55 L611.57,619.64 L612.07,617.81 L612.57,616.05 L613.08,614.34 L613.58,612.69 L614.08,611.1 L614.58,609.56 L615.08,608.09 L615.58,606.68 L616.08,605.35 L616.58,604.08 L617.09,602.89 L617.59,601.78 L618.09,600.75 L618.59,599.81 L619.09,598.95 L619.59,598.19 L620.09,597.5 L620.59,596.9 L621.09,596.38 L621.6,595.93 L622.1,595.55 L622.6,595.23 L623.1,594.97 L623.6,594.76 L624.1,594.61 L624.6,594.5 L625.1,594.44 L625.61,594.41 L626.11,594.43 L626.61,594.48 L627.11,594.56 L627.61,594.68 L628.11,594.83 L628.61,595.02 L629.11,595.23 L629.61,595.47 L630.12,595.75 L630.62,596.05 L631.12,596.37 L631.62,596.72 L632.12,597.1 L632.62,597.5 L633.12,597.92 L633.62,598.36 L634.13,598.82 L634.63,599.3 L635.13,599.8 L635.63,600.32 L636.13,600.87 L636.63,601.42 L637.13,602 L637.63,602.6 L638.13,603.21 L638.64,603.84 L639.14,604.49 L639.64,605.16 L640.14,605.84 L640.64,606.53 L641.14,607.25 L641.64,607.97 L642.14,608.72 L642.65,609.47 L643.15,610.25 L643.65,611.04 L644.15,611.84 L644.65,612.66 L645.15,613.49 L645.65,614.34 L646.15,615.2 L646.65,616.08 L647.16,616.97 L647.66,617.88 L648.16,618.8 L648.66,619.73 L649.16,620.68 L649.66,621.64 L650.16,622.62 L650.66,623.61 L651.17,624.61 L651.67,625.62 L652.17,626.65 L652.67,627.68 L653.17,628.73 L653.67,629.78 L654.17,630.85 L654.67,631.92 L655.17,633 L655.68,634.09 L656.18,635.18 L656.68,636.28 L657.18,637.38 L657.68,638.49 L658.18,639.6 L658.68,640.72 L659.18,641.84 L659.69,642.96 L660.19,644.08 L660.69,645.2 L661.19,646.33 L661.69,647.45 L662.19,648.58 L662.69,649.71 L663.19,650.84 L663.69,651.97 L664.2,653.1 L664.7,654.23 L665.2,655.36 L665.7,656.49 L666.2,657.63 L666.7,658.76 L667.2,659.89 L667.7,661.03 L668.21,662.17 L668.71,663.3 L669.21,664.44 L669.71,665.57 L670.21,666.71 L670.71,667.85 L671.21,668.98 L671.71,670.12 L672.22,671.26 L672.72,672.4 L673.22,673.53 L673.72,674.67 L674.22,675.8 L674.72,676.93 L675.22,678.05 L675.72,679.17 L676.22,680.29 L676.73,681.39 L677.23,682.5 L677.73,683.59 L678.23,684.68 L678.73,685.75 L679.23,686.82 L679.73,687.87 L680.23,688.92 L680.74,689.95 L681.24,690.97 L681.74,691.98 L682.24,692.97 L682.74,693.94 L683.24,694.9 L683.74,695.85 L684.24,696.77 L684.74,697.68 L685.25,698.57 L685.75,699.45 L686.25,700.31 L686.75,701.16 L687.25,702 L687.75,702.82 L688.25,703.64 L688.75,704.44 L689.26,705.24 L689.76,706.04 L690.26,706.83 L690.76,707.61 L691.26,708.39 L691.76,709.17 L692.26,709.95 L692.76,710.74 L693.26,711.52 L693.77,712.31 L694.27,713.1 L694.77,713.89 L695.27,714.7 L695.77,715.51 L696.27,716.33 L696.77,717.16 L697.27,718 L697.78,718.85 L698.28,719.71 L698.78,720.57 L699.28,721.44 L699.78,722.31 L700.28,723.19 L700.78,724.06 L701.28,724.94 L701.78,725.82 L702.29,726.7 L702.79,727.58 L703.29,728.45 L703.79,729.32 L704.29,730.18 L704.79,731.04 L705.29,731.89 L705.79,732.73 L706.3,733.56 L706.8,734.38 L707.3,735.19 L707.8,735.99 L708.3,736.78 L708.8,737.56 L709.3,738.33 L709.8,739.08 L710.3,739.83 L710.81,740.58 L711.31,741.31 L711.81,742.04 L712.31,742.76 L712.81,743.47 L713.31,744.18 L713.81,744.89 L714.31,745.59 L714.82,746.29 L715.32,746.98 L715.82,747.68 L716.32,748.37 L716.82,749.06 L717.32,749.75 L717.82,750.44 L718.32,751.12 L718.82,751.81 L719.33,752.5 L719.83,753.18 L720.33,753.87 L720.83,754.55 L721.33,755.23 L721.83,755.92 L722.33,756.6 L722.83,757.27 L723.34,757.95 L723.84,758.63 L724.34,759.3 L724.84,759.98 L725.34,760.65 L725.84,761.32 L726.34,761.99 L726.84,762.66 L727.35,763.32 L727.85,763.99 L728.35,764.65 L728.85,765.31 L729.35,765.97 L729.85,766.63 L730.35,767.28 L730.85,767.93 L731.35,768.58 L731.86,769.23 L732.36,769.87 L732.86,770.51 L733.36,771.15 L733.86,771.78 L734.36,772.41 L734.86,773.04 L735.36,773.66 L735.87,774.28 L736.37,774.9 L736.87,775.51 L737.37,776.11 L737.87,776.71 L738.37,777.31 L738.87,777.9 L739.37,778.49 L739.87,779.07 L740.38,779.64 L740.88,780.22 L741.38,780.78 L741.88,781.34 L742.38,781.9 L742.88,782.45 L743.38,782.99 L743.88,783.54 L744.39,784.07 L744.89,784.6 L745.39,785.13 L745.89,785.65 L746.39,786.17 L746.89,786.68 L747.39,787.19 L747.89,787.69 L748.39,788.19 L748.9,788.68 L749.4,789.17 L749.9,789.65 L750.4,790.13 L750.9,790.61 L751.4,791.08 L751.9,791.55 L752.4,792.01 L752.91,792.47 L753.41,792.92 L753.91,793.37 L754.41,793.82 L754.91,794.26 L755.41,794.7 L755.91,795.13 L756.41,795.56 L756.91,795.98 L757.42,796.41 L757.92,796.82 L758.42,797.24 L758.92,797.64 L759.42,798.05 L759.92,798.45 L760.42,798.85 L760.92,799.24 L761.43,799.63 L761.93,800.02 L762.43,800.4 L762.93,800.78 L763.43,801.16 L763.93,801.53 L764.43,801.9 L764.93,802.27 L765.43,802.63 L765.94,802.99 L766.44,803.34 L766.94,803.7 L767.44,804.05 L767.94,804.39 L768.44,804.74 L768.94,805.08 L769.44,805.42 L769.95,805.75 L770.45,806.08 L770.95,806.41 L771.45,806.74 L771.95,807.06 L772.45,807.39 L772.95,807.7 L773.45,808.02 L773.95,808.34 L774.46,808.65 L774.96,808.96 L775.46,809.26 L775.96,809.57 L776.46,809.87 L776.96,810.17 L777.46,810.47 L777.96,810.77 L778.47,811.07 L778.97,811.36 L779.47,811.65 L779.97,811.94 L780.47,812.23 L780.97,812.52 L781.47,812.8 L781.97,813.08 L782.48,813.37 L782.98,813.65 L783.48,813.93 L783.98,814.2 L784.48,814.48 L784.98,814.76 L785.48,815.03 L785.98,815.3 L786.48,815.58 L786.99,815.85 L787.49,816.12 L787.99,816.38 L788.49,816.65 L788.99,816.91 L789.49,817.18 L789.99,817.44 L790.49,817.7 L791,817.96 L791.5,818.21 L792,818.47 L792.5,818.72 L793,818.97 L793.5,819.22 L794,819.47 L794.5,819.72 L795,819.96 L795.51,820.2 L796.01,820.44 L796.51,820.68 L797.01,820.92 L797.51,821.15 L798.01,821.38 L798.51,821.61 L799.01,821.84 L799.52,822.06 L800.02,822.29 L800.52,822.51 L801.02,822.73 L801.52,822.94 L802.02,823.15 L802.52,823.36 L803.02,823.57 L803.52,823.78 L804.03,823.98 L804.53,824.18 L805.03,824.38 L805.53,824.57 L806.03,824.76 L806.53,824.95 L807.03,825.14 L807.53,825.32 L808.04,825.5 L808.54,825.68 L809.04,825.85 L809.54,826.03 L810.04,826.2 L810.54,826.36 L811.04,826.53 L811.54,826.69 L812.04,826.85 L812.55,827.01 L813.05,827.16 L813.55,827.31 L814.05,827.46 L814.55,827.61 L815.05,827.76 L815.55,827.9 L816.05,828.05 L816.56,828.19 L817.06,828.33 L817.56,828.47 L818.06,828.6 L818.56,828.74 L819.06,828.87 L819.56,829 L820.06,829.13 L820.56,829.26 L821.07,829.39 L821.57,829.52 L822.07,829.64 L822.57,829.77 L823.07,829.89 L823.57,830.01 L824.07,830.13 L824.57,830.25 L825.08,830.37 L825.58,830.49 L826.08,830.61 L826.58,830.73 L827.08,830.85 L827.58,830.97 L828.08,831.08 L828.58,831.2 L829.08,831.32 L829.59,831.43 L830.09,831.55 L830.59,831.67 L831.09,831.78 L831.59,831.9 L832.09,832.01 L832.59,832.13 L833.09,832.24 L833.6,832.36 L834.1,832.48 L834.6,832.59 L835.1,832.7 L835.6,832.82 L836.1,832.93 L836.6,833.05 L837.1,833.16 L837.61,833.27 L838.11,833.39 L838.61,833.5 L839.11,833.61 L839.61,833.72 L840.11,833.83 L840.61,833.95 L841.11,834.06 L841.61,834.17 L842.12,834.28 L842.62,834.39 L843.12,834.49 L843.62,834.6 L844.12,834.71 L844.62,834.82 L845.12,834.92 L845.62,835.03 L846.13,835.14 L846.63,835.24 L847.13,835.35 L847.63,835.45 L848.13,835.55 L848.63,835.65 L849.13,835.76 L849.63,835.86 L850.13,835.96 L850.64,836.06 L851.14,836.16 L851.64,836.25 L852.14,836.35 L852.64,836.45 L853.14,836.54 L853.64,836.64 L854.14,836.73 L854.65,836.83 L855.15,836.92 L855.65,837.01 L856.15,837.1 L856.65,837.19 L857.15,837.28 L857.65,837.37 L858.15,837.46 L858.65,837.55 L859.16,837.64 L859.66,837.72 L860.16,837.81 L860.66,837.9 L861.16,837.98 L861.66,838.07 L862.16,838.15 L862.66,838.24 L863.17,838.32 L863.67,838.4 L864.17,838.49 L864.67,838.57 L865.17,838.65 L865.67,838.73 L866.17,838.82 L866.67,838.9 L867.17,838.98 L867.68,839.06 L868.18,839.14 L868.68,839.22 L869.18,839.3 L869.68,839.38 L870.18,839.46 L870.68,839.54 L871.18,839.62 L871.69,839.7 L872.19,839.78 L872.69,839.86 L873.19,839.94 L873.69,840.02 L874.19,840.1 L874.69,840.18 L875.19,840.26 L875.69,840.34 L876.2,840.42 L876.7,840.5 L877.2,840.58 L877.7,840.66 L878.2,840.74 L878.7,840.81 L879.2,840.89 L879.7,840.97 L880.21,841.05 L880.71,841.13 L881.21,841.21 L881.71,841.29 L882.21,841.37 L882.71,841.44 L883.21,841.52 L883.71,841.6 L884.21,841.67 L884.72,841.75 L885.22,841.83 L885.72,841.9 L886.22,841.98 L886.72,842.05 L887.22,842.13 L887.72,842.2 L888.22,842.27 L888.73,842.35 L889.23,842.42 L889.73,842.49 L890.23,842.56 L890.73,842.63 L891.23,842.7 L891.73,842.77 L892.23,842.83 L892.74,842.9 L893.24,842.97 L893.74,843.03 L894.24,843.1 L894.74,843.16 L895.24,843.22 L895.74,843.29 L896.24,843.35 L896.74,843.41 L897.25,843.47 L897.75,843.52 L898.25,843.58 L898.75,843.64 L899.25,843.69 L899.75,843.75 L900.25,843.8 L900.75,843.85 L901.26,843.9 L901.76,843.96 L902.26,844 L902.76,844.05 L903.26,844.1 L903.76,844.15 L904.26,844.2 L904.76,844.24 L905.26,844.29 L905.77,844.33 L906.27,844.38 L906.77,844.42 L907.27,844.46 L907.77,844.5 L908.27,844.55 L908.77,844.59 L909.27,844.63 L909.78,844.67 L910.28,844.71 L910.78,844.75 L911.28,844.78 L911.78,844.82 L912.28,844.86 L912.78,844.9 L913.28,844.93 L913.78,844.97 L914.29,845.01 L914.79,845.04 L915.29,845.08 L915.79,845.12 L916.29,845.15 L916.79,845.19 L917.29,845.22 L917.79,845.26 L918.3,845.29 L918.8,845.33 L919.3,845.36 L919.8,845.4 L920.3,845.43" fill="none" stroke="#161616" stroke-width="2.6" stroke-linejoin="round" stroke-linecap="round"/>
<circle cx="581" cy="719.12" r="3.3" fill="#fff" stroke="#e02ae4" stroke-width="2.8"/>
<circle cx="603.62" cy="663.89" r="3.3" fill="#fff" stroke="#e02ae4" stroke-width="2.8"/>
<circle cx="626.24" cy="622.88" r="3.3" fill="#fff" stroke="#e02ae4" stroke-width="2.8"/>
<circle cx="648.86" cy="581.87" r="3.3" fill="#fff" stroke="#e02ae4" stroke-width="2.8"/>
<circle cx="671.48" cy="603.47" r="3.3" fill="#fff" stroke="#e02ae4" stroke-width="2.8"/>
<circle cx="694.1" cy="705.18" r="3.3" fill="#fff" stroke="#e02ae4" stroke-width="2.8"/>
<circle cx="716.72" cy="732.52" r="3.3" fill="#fff" stroke="#e02ae4" stroke-width="2.8"/>
<circle cx="739.34" cy="778.45" r="3.3" fill="#fff" stroke="#e02ae4" stroke-width="2.8"/>
<circle cx="761.96" cy="800.87" r="3.3" fill="#fff" stroke="#e02ae4" stroke-width="2.8"/>
<circle cx="784.58" cy="814.54" r="3.3" fill="#fff" stroke="#e02ae4" stroke-width="2.8"/>
<circle cx="807.2" cy="828.48" r="3.3" fill="#fff" stroke="#e02ae4" stroke-width="2.8"/>
<circle cx="829.82" cy="836.68" r="3.3" fill="#fff" stroke="#e02ae4" stroke-width="2.8"/>
<circle cx="852.44" cy="835.04" r="3.3" fill="#fff" stroke="#e02ae4" stroke-width="2.8"/>
<circle cx="875.06" cy="840.78" r="3.3" fill="#fff" stroke="#e02ae4" stroke-width="2.8"/>
<circle cx="897.68" cy="850.35" r="3.3" fill="#fff" stroke="#e02ae4" stroke-width="2.8"/>
<circle cx="920.3" cy="845.98" r="3.3" fill="#fff" stroke="#e02ae4" stroke-width="2.8"/>
<line x1="764.5" y1="593" x2="804" y2="593" stroke="#161616" stroke-width="2.6"/>
<text x="809.1" y="599.1" font-size="17.1" fill="#262626">Simulation</text>
<circle cx="783.4" cy="614.9" r="3.3" fill="#fff" stroke="#e02ae4" stroke-width="2.8"/>
<text x="809.1" y="620.5" font-size="17.1" fill="#262626">Measurement</text>
<text transform="translate(525.2,708.6) rotate(-90)" text-anchor="middle" font-size="18.5" fill="#262626">Normalized intensity</text>
<text x="750.3" y="911.6" text-anchor="middle" font-size="18.8" fill="#262626"><tspan font-style="italic">x</tspan> (mm)</text>
<text x="752.6" y="948" text-anchor="middle" font-size="27" font-weight="bold" fill="#000">(<tspan font-style="italic">f</tspan>)</text>
<line x1="88.51" y1="1278.92" x2="88.51" y2="1297.4" stroke="#7272b8" stroke-width="1.4" stroke-dasharray="3.4 3.3"/>
<line x1="124.12" y1="1272.41" x2="124.12" y2="1297.4" stroke="#7272b8" stroke-width="1.4" stroke-dasharray="3.4 3.3"/>
<line x1="159.74" y1="1265.31" x2="159.74" y2="1297.4" stroke="#7272b8" stroke-width="1.4" stroke-dasharray="3.4 3.3"/>
<line x1="195.36" y1="1232.17" x2="195.36" y2="1297.4" stroke="#7272b8" stroke-width="1.4" stroke-dasharray="3.4 3.3"/>
<line x1="230.98" y1="1178.31" x2="230.98" y2="1297.4" stroke="#7272b8" stroke-width="1.4" stroke-dasharray="3.4 3.3"/>
<line x1="266.6" y1="1169.73" x2="266.6" y2="1297.4" stroke="#7272b8" stroke-width="1.4" stroke-dasharray="3.4 3.3"/>
<line x1="302.22" y1="1190.15" x2="302.22" y2="1297.4" stroke="#7272b8" stroke-width="1.4" stroke-dasharray="3.4 3.3"/>
<line x1="337.84" y1="1232.17" x2="337.84" y2="1297.4" stroke="#7272b8" stroke-width="1.4" stroke-dasharray="3.4 3.3"/>
<line x1="373.46" y1="1262.94" x2="373.46" y2="1297.4" stroke="#7272b8" stroke-width="1.4" stroke-dasharray="3.4 3.3"/>
<line x1="409.08" y1="1272.41" x2="409.08" y2="1297.4" stroke="#7272b8" stroke-width="1.4" stroke-dasharray="3.4 3.3"/>
<line x1="444.7" y1="1267.97" x2="444.7" y2="1297.4" stroke="#7272b8" stroke-width="1.4" stroke-dasharray="3.4 3.3"/>
<path d="M83.4,1001.6 V1297.4 H451" fill="none" stroke="#505050" stroke-width="1.8"/>
<line x1="77.9" y1="1297.5" x2="83.4" y2="1297.5" stroke="#505050" stroke-width="1.5"/>
<text x="73.2" y="1303.2" text-anchor="end" font-size="19" fill="#262626">0.0</text>
<line x1="80.4" y1="1267.91" x2="83.4" y2="1267.91" stroke="#505050" stroke-width="1.5"/>
<line x1="77.9" y1="1238.32" x2="83.4" y2="1238.32" stroke="#505050" stroke-width="1.5"/>
<text x="73.2" y="1244.02" text-anchor="end" font-size="19" fill="#262626">0.2</text>
<line x1="80.4" y1="1208.73" x2="83.4" y2="1208.73" stroke="#505050" stroke-width="1.5"/>
<line x1="77.9" y1="1179.14" x2="83.4" y2="1179.14" stroke="#505050" stroke-width="1.5"/>
<text x="73.2" y="1184.84" text-anchor="end" font-size="19" fill="#262626">0.4</text>
<line x1="80.4" y1="1149.55" x2="83.4" y2="1149.55" stroke="#505050" stroke-width="1.5"/>
<line x1="77.9" y1="1119.96" x2="83.4" y2="1119.96" stroke="#505050" stroke-width="1.5"/>
<text x="73.2" y="1125.66" text-anchor="end" font-size="19" fill="#262626">0.6</text>
<line x1="80.4" y1="1090.37" x2="83.4" y2="1090.37" stroke="#505050" stroke-width="1.5"/>
<line x1="77.9" y1="1060.78" x2="83.4" y2="1060.78" stroke="#505050" stroke-width="1.5"/>
<text x="73.2" y="1066.48" text-anchor="end" font-size="19" fill="#262626">0.8</text>
<line x1="80.4" y1="1031.19" x2="83.4" y2="1031.19" stroke="#505050" stroke-width="1.5"/>
<line x1="77.9" y1="1001.6" x2="83.4" y2="1001.6" stroke="#505050" stroke-width="1.5"/>
<text x="73.2" y="1007.3" text-anchor="end" font-size="19" fill="#262626">1.0</text>
<line x1="88.51" y1="1297.4" x2="88.51" y2="1302.9" stroke="#505050" stroke-width="1.5"/>
<text x="88.51" y="1321.7" text-anchor="middle" font-size="19" fill="#262626">-150</text>
<line x1="147.87" y1="1297.4" x2="147.87" y2="1302.9" stroke="#505050" stroke-width="1.5"/>
<text x="147.87" y="1321.7" text-anchor="middle" font-size="19" fill="#262626">-100</text>
<line x1="207.24" y1="1297.4" x2="207.24" y2="1302.9" stroke="#505050" stroke-width="1.5"/>
<text x="207.24" y="1321.7" text-anchor="middle" font-size="19" fill="#262626">-50</text>
<line x1="266.6" y1="1297.4" x2="266.6" y2="1302.9" stroke="#505050" stroke-width="1.5"/>
<text x="266.6" y="1321.7" text-anchor="middle" font-size="19" fill="#262626">0</text>
<line x1="325.97" y1="1297.4" x2="325.97" y2="1302.9" stroke="#505050" stroke-width="1.5"/>
<text x="325.97" y="1321.7" text-anchor="middle" font-size="19" fill="#262626">50</text>
<line x1="385.33" y1="1297.4" x2="385.33" y2="1302.9" stroke="#505050" stroke-width="1.5"/>
<text x="385.33" y="1321.7" text-anchor="middle" font-size="19" fill="#262626">100</text>
<line x1="444.7" y1="1297.4" x2="444.7" y2="1302.9" stroke="#505050" stroke-width="1.5"/>
<text x="444.7" y="1321.7" text-anchor="middle" font-size="19" fill="#262626">150</text>
<line x1="118.19" y1="1297.4" x2="118.19" y2="1300.4" stroke="#505050" stroke-width="1.5"/>
<line x1="177.55" y1="1297.4" x2="177.55" y2="1300.4" stroke="#505050" stroke-width="1.5"/>
<line x1="236.92" y1="1297.4" x2="236.92" y2="1300.4" stroke="#505050" stroke-width="1.5"/>
<line x1="296.28" y1="1297.4" x2="296.28" y2="1300.4" stroke="#505050" stroke-width="1.5"/>
<line x1="355.65" y1="1297.4" x2="355.65" y2="1300.4" stroke="#505050" stroke-width="1.5"/>
<line x1="415.01" y1="1297.4" x2="415.01" y2="1300.4" stroke="#505050" stroke-width="1.5"/>
<path d="M88.51,1263.77 L89.01,1263.83 L89.51,1263.9 L90.01,1263.97 L90.51,1264.03 L91.01,1264.1 L91.51,1264.16 L92.01,1264.23 L92.51,1264.29 L93.01,1264.36 L93.51,1264.43 L94.02,1264.49 L94.52,1264.56 L95.02,1264.63 L95.52,1264.69 L96.02,1264.76 L96.52,1264.82 L97.02,1264.89 L97.52,1264.96 L98.02,1265.02 L98.52,1265.09 L99.03,1265.15 L99.53,1265.22 L100.03,1265.29 L100.53,1265.35 L101.03,1265.42 L101.53,1265.49 L102.03,1265.55 L102.53,1265.62 L103.03,1265.69 L103.53,1265.75 L104.04,1265.82 L104.54,1265.89 L105.04,1265.95 L105.54,1266.02 L106.04,1266.09 L106.54,1266.15 L107.04,1266.22 L107.54,1266.28 L108.04,1266.35 L108.54,1266.41 L109.04,1266.47 L109.55,1266.53 L110.05,1266.59 L110.55,1266.65 L111.05,1266.71 L111.55,1266.77 L112.05,1266.82 L112.55,1266.87 L113.05,1266.92 L113.55,1266.97 L114.05,1267.02 L114.56,1267.06 L115.06,1267.11 L115.56,1267.14 L116.06,1267.18 L116.56,1267.22 L117.06,1267.25 L117.56,1267.28 L118.06,1267.3 L118.56,1267.32 L119.06,1267.34 L119.57,1267.36 L120.07,1267.37 L120.57,1267.38 L121.07,1267.39 L121.57,1267.39 L122.07,1267.38 L122.57,1267.38 L123.07,1267.37 L123.57,1267.35 L124.07,1267.33 L124.57,1267.31 L125.08,1267.28 L125.58,1267.25 L126.08,1267.21 L126.58,1267.17 L127.08,1267.12 L127.58,1267.07 L128.08,1267.02 L128.58,1266.96 L129.08,1266.9 L129.58,1266.84 L130.09,1266.77 L130.59,1266.7 L131.09,1266.63 L131.59,1266.55 L132.09,1266.47 L132.59,1266.39 L133.09,1266.3 L133.59,1266.22 L134.09,1266.13 L134.59,1266.03 L135.1,1265.94 L135.6,1265.85 L136.1,1265.75 L136.6,1265.65 L137.1,1265.55 L137.6,1265.45 L138.1,1265.34 L138.6,1265.24 L139.1,1265.13 L139.6,1265.02 L140.1,1264.92 L140.61,1264.81 L141.11,1264.7 L141.61,1264.59 L142.11,1264.48 L142.61,1264.37 L143.11,1264.26 L143.61,1264.15 L144.11,1264.03 L144.61,1263.92 L145.11,1263.81 L145.62,1263.69 L146.12,1263.58 L146.62,1263.46 L147.12,1263.34 L147.62,1263.21 L148.12,1263.09 L148.62,1262.96 L149.12,1262.83 L149.62,1262.69 L150.12,1262.55 L150.63,1262.41 L151.13,1262.26 L151.63,1262.11 L152.13,1261.95 L152.63,1261.79 L153.13,1261.62 L153.63,1261.45 L154.13,1261.27 L154.63,1261.09 L155.13,1260.9 L155.64,1260.7 L156.14,1260.5 L156.64,1260.28 L157.14,1260.07 L157.64,1259.84 L158.14,1259.61 L158.64,1259.36 L159.14,1259.11 L159.64,1258.85 L160.14,1258.59 L160.64,1258.31 L161.15,1258.02 L161.65,1257.73 L162.15,1257.43 L162.65,1257.12 L163.15,1256.8 L163.65,1256.47 L164.15,1256.14 L164.65,1255.8 L165.15,1255.45 L165.65,1255.1 L166.16,1254.74 L166.66,1254.38 L167.16,1254.01 L167.66,1253.63 L168.16,1253.25 L168.66,1252.86 L169.16,1252.47 L169.66,1252.07 L170.16,1251.67 L170.66,1251.27 L171.17,1250.86 L171.67,1250.45 L172.17,1250.03 L172.67,1249.61 L173.17,1249.19 L173.67,1248.76 L174.17,1248.34 L174.67,1247.91 L175.17,1247.48 L175.67,1247.04 L176.17,1246.61 L176.68,1246.17 L177.18,1245.73 L177.68,1245.3 L178.18,1244.86 L178.68,1244.42 L179.18,1243.98 L179.68,1243.53 L180.18,1243.09 L180.68,1242.65 L181.18,1242.2 L181.69,1241.76 L182.19,1241.31 L182.69,1240.86 L183.19,1240.41 L183.69,1239.96 L184.19,1239.5 L184.69,1239.05 L185.19,1238.59 L185.69,1238.13 L186.19,1237.67 L186.7,1237.21 L187.2,1236.74 L187.7,1236.28 L188.2,1235.81 L188.7,1235.34 L189.2,1234.87 L189.7,1234.39 L190.2,1233.91 L190.7,1233.43 L191.2,1232.95 L191.7,1232.47 L192.21,1231.98 L192.71,1231.49 L193.21,1231 L193.71,1230.51 L194.21,1230.01 L194.71,1229.51 L195.21,1229.01 L195.71,1228.51 L196.21,1228 L196.71,1227.49 L197.22,1226.97 L197.72,1226.46 L198.22,1225.94 L198.72,1225.42 L199.22,1224.89 L199.72,1224.36 L200.22,1223.83 L200.72,1223.3 L201.22,1222.77 L201.72,1222.23 L202.23,1221.69 L202.73,1221.15 L203.23,1220.61 L203.73,1220.06 L204.23,1219.51 L204.73,1218.97 L205.23,1218.41 L205.73,1217.86 L206.23,1217.31 L206.73,1216.75 L207.24,1216.19 L207.74,1215.63 L208.24,1215.07 L208.74,1214.51 L209.24,1213.94 L209.74,1213.38 L210.24,1212.81 L210.74,1212.24 L211.24,1211.67 L211.74,1211.1 L212.24,1210.53 L212.75,1209.96 L213.25,1209.38 L213.75,1208.81 L214.25,1208.23 L214.75,1207.66 L215.25,1207.09 L215.75,1206.51 L216.25,1205.94 L216.75,1205.36 L217.25,1204.79 L217.76,1204.22 L218.26,1203.65 L218.76,1203.08 L219.26,1202.51 L219.76,1201.95 L220.26,1201.38 L220.76,1200.82 L221.26,1200.26 L221.76,1199.7 L222.26,1199.15 L222.77,1198.59 L223.27,1198.05 L223.77,1197.5 L224.27,1196.96 L224.77,1196.42 L225.27,1195.88 L225.77,1195.35 L226.27,1194.82 L226.77,1194.3 L227.27,1193.78 L227.77,1193.26 L228.28,1192.75 L228.78,1192.25 L229.28,1191.75 L229.78,1191.25 L230.28,1190.76 L230.78,1190.28 L231.28,1189.8 L231.78,1189.33 L232.28,1188.86 L232.78,1188.41 L233.29,1187.95 L233.79,1187.5 L234.29,1187.06 L234.79,1186.63 L235.29,1186.2 L235.79,1185.78 L236.29,1185.36 L236.79,1184.95 L237.29,1184.55 L237.79,1184.15 L238.3,1183.76 L238.8,1183.37 L239.3,1183 L239.8,1182.63 L240.3,1182.26 L240.8,1181.9 L241.3,1181.55 L241.8,1181.21 L242.3,1180.87 L242.8,1180.54 L243.3,1180.22 L243.81,1179.9 L244.31,1179.59 L244.81,1179.29 L245.31,1178.99 L245.81,1178.7 L246.31,1178.42 L246.81,1178.15 L247.31,1177.88 L247.81,1177.62 L248.31,1177.37 L248.82,1177.12 L249.32,1176.88 L249.82,1176.65 L250.32,1176.43 L250.82,1176.21 L251.32,1176 L251.82,1175.8 L252.32,1175.6 L252.82,1175.42 L253.32,1175.23 L253.83,1175.06 L254.33,1174.89 L254.83,1174.73 L255.33,1174.58 L255.83,1174.44 L256.33,1174.3 L256.83,1174.16 L257.33,1174.04 L257.83,1173.92 L258.33,1173.81 L258.83,1173.7 L259.34,1173.61 L259.84,1173.51 L260.34,1173.43 L260.84,1173.35 L261.34,1173.28 L261.84,1173.22 L262.34,1173.16 L262.84,1173.11 L263.34,1173.06 L263.84,1173.02 L264.35,1172.99 L264.85,1172.97 L265.35,1172.95 L265.85,1172.93 L266.35,1172.93 L266.85,1172.93 L267.35,1172.93 L267.85,1172.95 L268.35,1172.97 L268.85,1172.99 L269.36,1173.02 L269.86,1173.06 L270.36,1173.11 L270.86,1173.16 L271.36,1173.22 L271.86,1173.28 L272.36,1173.35 L272.86,1173.43 L273.36,1173.51 L273.86,1173.61 L274.37,1173.7 L274.87,1173.81 L275.37,1173.92 L275.87,1174.04 L276.37,1174.16 L276.87,1174.3 L277.37,1174.44 L277.87,1174.58 L278.37,1174.73 L278.87,1174.89 L279.37,1175.06 L279.88,1175.23 L280.38,1175.42 L280.88,1175.6 L281.38,1175.8 L281.88,1176 L282.38,1176.21 L282.88,1176.43 L283.38,1176.65 L283.88,1176.88 L284.38,1177.12 L284.89,1177.37 L285.39,1177.62 L285.89,1177.88 L286.39,1178.15 L286.89,1178.42 L287.39,1178.7 L287.89,1178.99 L288.39,1179.29 L288.89,1179.59 L289.39,1179.9 L289.9,1180.22 L290.4,1180.54 L290.9,1180.87 L291.4,1181.21 L291.9,1181.55 L292.4,1181.9 L292.9,1182.26 L293.4,1182.63 L293.9,1183 L294.4,1183.37 L294.9,1183.76 L295.41,1184.15 L295.91,1184.55 L296.41,1184.95 L296.91,1185.36 L297.41,1185.78 L297.91,1186.2 L298.41,1186.63 L298.91,1187.06 L299.41,1187.5 L299.91,1187.95 L300.42,1188.41 L300.92,1188.86 L301.42,1189.33 L301.92,1189.8 L302.42,1190.28 L302.92,1190.76 L303.42,1191.25 L303.92,1191.75 L304.42,1192.25 L304.92,1192.75 L305.43,1193.26 L305.93,1193.78 L306.43,1194.3 L306.93,1194.82 L307.43,1195.35 L307.93,1195.88 L308.43,1196.42 L308.93,1196.96 L309.43,1197.5 L309.93,1198.05 L310.43,1198.59 L310.94,1199.15 L311.44,1199.7 L311.94,1200.26 L312.44,1200.82 L312.94,1201.38 L313.44,1201.95 L313.94,1202.51 L314.44,1203.08 L314.94,1203.65 L315.44,1204.22 L315.95,1204.79 L316.45,1205.36 L316.95,1205.94 L317.45,1206.51 L317.95,1207.09 L318.45,1207.66 L318.95,1208.23 L319.45,1208.81 L319.95,1209.38 L320.45,1209.96 L320.96,1210.53 L321.46,1211.1 L321.96,1211.67 L322.46,1212.24 L322.96,1212.81 L323.46,1213.38 L323.96,1213.94 L324.46,1214.51 L324.96,1215.07 L325.46,1215.63 L325.97,1216.19 L326.47,1216.75 L326.97,1217.31 L327.47,1217.86 L327.97,1218.41 L328.47,1218.97 L328.97,1219.51 L329.47,1220.06 L329.97,1220.61 L330.47,1221.15 L330.97,1221.69 L331.48,1222.23 L331.98,1222.77 L332.48,1223.3 L332.98,1223.83 L333.48,1224.36 L333.98,1224.89 L334.48,1225.42 L334.98,1225.94 L335.48,1226.46 L335.98,1226.97 L336.49,1227.49 L336.99,1228 L337.49,1228.51 L337.99,1229.01 L338.49,1229.51 L338.99,1230.01 L339.49,1230.51 L339.99,1231 L340.49,1231.49 L340.99,1231.98 L341.5,1232.47 L342,1232.95 L342.5,1233.43 L343,1233.91 L343.5,1234.39 L344,1234.87 L344.5,1235.34 L345,1235.81 L345.5,1236.28 L346,1236.74 L346.5,1237.21 L347.01,1237.67 L347.51,1238.13 L348.01,1238.59 L348.51,1239.05 L349.01,1239.5 L349.51,1239.96 L350.01,1240.41 L350.51,1240.86 L351.01,1241.31 L351.51,1241.76 L352.02,1242.2 L352.52,1242.65 L353.02,1243.09 L353.52,1243.53 L354.02,1243.98 L354.52,1244.42 L355.02,1244.86 L355.52,1245.3 L356.02,1245.73 L356.52,1246.17 L357.03,1246.61 L357.53,1247.04 L358.03,1247.48 L358.53,1247.91 L359.03,1248.34 L359.53,1248.76 L360.03,1249.19 L360.53,1249.61 L361.03,1250.03 L361.53,1250.45 L362.03,1250.86 L362.54,1251.27 L363.04,1251.67 L363.54,1252.07 L364.04,1252.47 L364.54,1252.86 L365.04,1253.25 L365.54,1253.63 L366.04,1254.01 L366.54,1254.38 L367.04,1254.74 L367.55,1255.1 L368.05,1255.45 L368.55,1255.8 L369.05,1256.14 L369.55,1256.47 L370.05,1256.8 L370.55,1257.12 L371.05,1257.43 L371.55,1257.73 L372.05,1258.02 L372.56,1258.31 L373.06,1258.59 L373.56,1258.85 L374.06,1259.11 L374.56,1259.36 L375.06,1259.61 L375.56,1259.84 L376.06,1260.07 L376.56,1260.28 L377.06,1260.5 L377.56,1260.7 L378.07,1260.9 L378.57,1261.09 L379.07,1261.27 L379.57,1261.45 L380.07,1261.62 L380.57,1261.79 L381.07,1261.95 L381.57,1262.11 L382.07,1262.26 L382.57,1262.41 L383.08,1262.55 L383.58,1262.69 L384.08,1262.83 L384.58,1262.96 L385.08,1263.09 L385.58,1263.21 L386.08,1263.34 L386.58,1263.46 L387.08,1263.58 L387.58,1263.69 L388.09,1263.81 L388.59,1263.92 L389.09,1264.03 L389.59,1264.15 L390.09,1264.26 L390.59,1264.37 L391.09,1264.48 L391.59,1264.59 L392.09,1264.7 L392.59,1264.81 L393.1,1264.92 L393.6,1265.02 L394.1,1265.13 L394.6,1265.24 L395.1,1265.34 L395.6,1265.45 L396.1,1265.55 L396.6,1265.65 L397.1,1265.75 L397.6,1265.85 L398.1,1265.94 L398.61,1266.03 L399.11,1266.13 L399.61,1266.22 L400.11,1266.3 L400.61,1266.39 L401.11,1266.47 L401.61,1266.55 L402.11,1266.63 L402.61,1266.7 L403.11,1266.77 L403.62,1266.84 L404.12,1266.9 L404.62,1266.96 L405.12,1267.02 L405.62,1267.07 L406.12,1267.12 L406.62,1267.17 L407.12,1267.21 L407.62,1267.25 L408.12,1267.28 L408.63,1267.31 L409.13,1267.33 L409.63,1267.35 L410.13,1267.37 L410.63,1267.38 L411.13,1267.38 L411.63,1267.39 L412.13,1267.39 L412.63,1267.38 L413.13,1267.37 L413.63,1267.36 L414.14,1267.34 L414.64,1267.32 L415.14,1267.3 L415.64,1267.28 L416.14,1267.25 L416.64,1267.22 L417.14,1267.18 L417.64,1267.14 L418.14,1267.11 L418.64,1267.06 L419.15,1267.02 L419.65,1266.97 L420.15,1266.92 L420.65,1266.87 L421.15,1266.82 L421.65,1266.77 L422.15,1266.71 L422.65,1266.65 L423.15,1266.59 L423.65,1266.53 L424.16,1266.47 L424.66,1266.41 L425.16,1266.35 L425.66,1266.28 L426.16,1266.22 L426.66,1266.15 L427.16,1266.09 L427.66,1266.02 L428.16,1265.95 L428.66,1265.89 L429.16,1265.82 L429.67,1265.75 L430.17,1265.69 L430.67,1265.62 L431.17,1265.55 L431.67,1265.49 L432.17,1265.42 L432.67,1265.35 L433.17,1265.29 L433.67,1265.22 L434.17,1265.15 L434.68,1265.09 L435.18,1265.02 L435.68,1264.96 L436.18,1264.89 L436.68,1264.82 L437.18,1264.76 L437.68,1264.69 L438.18,1264.63 L438.68,1264.56 L439.18,1264.49 L439.69,1264.43 L440.19,1264.36 L440.69,1264.29 L441.19,1264.23 L441.69,1264.16 L442.19,1264.1 L442.69,1264.03 L443.19,1263.97 L443.69,1263.9 L444.19,1263.83 L444.7,1263.77" fill="none" stroke="#e0161e" stroke-width="2.6" stroke-linejoin="round" stroke-linecap="round"/>
<circle cx="88.51" cy="1274.42" r="3.3" fill="#fff" stroke="#2414dc" stroke-width="2.8"/>
<circle cx="124.12" cy="1267.91" r="3.3" fill="#fff" stroke="#2414dc" stroke-width="2.8"/>
<circle cx="159.74" cy="1260.81" r="3.3" fill="#fff" stroke="#2414dc" stroke-width="2.8"/>
<circle cx="195.36" cy="1227.67" r="3.3" fill="#fff" stroke="#2414dc" stroke-width="2.8"/>
<circle cx="230.98" cy="1173.81" r="3.3" fill="#fff" stroke="#2414dc" stroke-width="2.8"/>
<circle cx="266.6" cy="1165.23" r="3.3" fill="#fff" stroke="#2414dc" stroke-width="2.8"/>
<circle cx="302.22" cy="1185.65" r="3.3" fill="#fff" stroke="#2414dc" stroke-width="2.8"/>
<circle cx="337.84" cy="1227.67" r="3.3" fill="#fff" stroke="#2414dc" stroke-width="2.8"/>
<circle cx="373.46" cy="1258.44" r="3.3" fill="#fff" stroke="#2414dc" stroke-width="2.8"/>
<circle cx="409.08" cy="1267.91" r="3.3" fill="#fff" stroke="#2414dc" stroke-width="2.8"/>
<circle cx="444.7" cy="1263.47" r="3.3" fill="#fff" stroke="#2414dc" stroke-width="2.8"/>
<line x1="289.5" y1="1022.2" x2="331.6" y2="1022.2" stroke="#e0161e" stroke-width="2.6"/>
<text x="335.9" y="1028.2" font-size="17.8" fill="#262626">Simulation</text>
<circle cx="310.6" cy="1046.3" r="3.3" fill="#fff" stroke="#2414dc" stroke-width="2.8"/>
<text x="335.9" y="1051.8" font-size="17.8" fill="#262626">Measurement</text>
<text transform="translate(30.3,1140.2) rotate(-90)" text-anchor="middle" font-size="19.25" fill="#262626">Normalized intensity</text>
<text x="265.8" y="1353.3" text-anchor="middle" font-size="19.3" fill="#262626"><tspan font-style="italic">y</tspan> (mm)</text>
<text x="255.3" y="1391" text-anchor="middle" font-size="27" font-weight="bold" fill="#000">(<tspan font-style="italic">g</tspan>)</text>
<line x1="585.1" y1="1250.7" x2="585.1" y2="1297" stroke="#d6a2d8" stroke-width="1.4" stroke-dasharray="3.4 3.3"/>
<line x1="620.8" y1="1288.07" x2="620.8" y2="1297" stroke="#d6a2d8" stroke-width="1.4" stroke-dasharray="3.4 3.3"/>
<line x1="656.5" y1="1294.1" x2="656.5" y2="1297" stroke="#d6a2d8" stroke-width="1.4" stroke-dasharray="3.4 3.3"/>
<line x1="692.2" y1="1265.65" x2="692.2" y2="1297" stroke="#d6a2d8" stroke-width="1.4" stroke-dasharray="3.4 3.3"/>
<line x1="727.9" y1="1159.02" x2="727.9" y2="1297" stroke="#d6a2d8" stroke-width="1.4" stroke-dasharray="3.4 3.3"/>
<line x1="763.6" y1="1012.74" x2="763.6" y2="1297" stroke="#d6a2d8" stroke-width="1.4" stroke-dasharray="3.4 3.3"/>
<line x1="799.3" y1="1148.1" x2="799.3" y2="1297" stroke="#d6a2d8" stroke-width="1.4" stroke-dasharray="3.4 3.3"/>
<line x1="835" y1="1256.74" x2="835" y2="1297" stroke="#d6a2d8" stroke-width="1.4" stroke-dasharray="3.4 3.3"/>
<line x1="870.7" y1="1291.23" x2="870.7" y2="1297" stroke="#d6a2d8" stroke-width="1.4" stroke-dasharray="3.4 3.3"/>
<line x1="906.4" y1="1281.46" x2="906.4" y2="1297" stroke="#d6a2d8" stroke-width="1.4" stroke-dasharray="3.4 3.3"/>
<line x1="942.1" y1="1250.7" x2="942.1" y2="1297" stroke="#d6a2d8" stroke-width="1.4" stroke-dasharray="3.4 3.3"/>
<path d="M580.6,1001.8 V1297 H948" fill="none" stroke="#505050" stroke-width="1.8"/>
<line x1="575.1" y1="1294.2" x2="580.6" y2="1294.2" stroke="#505050" stroke-width="1.5"/>
<text x="570.4" y="1299.9" text-anchor="end" font-size="19" fill="#262626">0.0</text>
<line x1="577.6" y1="1265.46" x2="580.6" y2="1265.46" stroke="#505050" stroke-width="1.5"/>
<line x1="575.1" y1="1236.72" x2="580.6" y2="1236.72" stroke="#505050" stroke-width="1.5"/>
<text x="570.4" y="1242.42" text-anchor="end" font-size="19" fill="#262626">0.2</text>
<line x1="577.6" y1="1207.98" x2="580.6" y2="1207.98" stroke="#505050" stroke-width="1.5"/>
<line x1="575.1" y1="1179.24" x2="580.6" y2="1179.24" stroke="#505050" stroke-width="1.5"/>
<text x="570.4" y="1184.94" text-anchor="end" font-size="19" fill="#262626">0.4</text>
<line x1="577.6" y1="1150.5" x2="580.6" y2="1150.5" stroke="#505050" stroke-width="1.5"/>
<line x1="575.1" y1="1121.76" x2="580.6" y2="1121.76" stroke="#505050" stroke-width="1.5"/>
<text x="570.4" y="1127.46" text-anchor="end" font-size="19" fill="#262626">0.6</text>
<line x1="577.6" y1="1093.02" x2="580.6" y2="1093.02" stroke="#505050" stroke-width="1.5"/>
<line x1="575.1" y1="1064.28" x2="580.6" y2="1064.28" stroke="#505050" stroke-width="1.5"/>
<text x="570.4" y="1069.98" text-anchor="end" font-size="19" fill="#262626">0.8</text>
<line x1="577.6" y1="1035.54" x2="580.6" y2="1035.54" stroke="#505050" stroke-width="1.5"/>
<line x1="575.1" y1="1006.8" x2="580.6" y2="1006.8" stroke="#505050" stroke-width="1.5"/>
<text x="570.4" y="1012.5" text-anchor="end" font-size="19" fill="#262626">1.0</text>
<line x1="585.1" y1="1297" x2="585.1" y2="1302.5" stroke="#505050" stroke-width="1.5"/>
<text x="585.1" y="1321.3" text-anchor="middle" font-size="19" fill="#262626">-150</text>
<line x1="644.6" y1="1297" x2="644.6" y2="1302.5" stroke="#505050" stroke-width="1.5"/>
<text x="644.6" y="1321.3" text-anchor="middle" font-size="19" fill="#262626">-100</text>
<line x1="704.1" y1="1297" x2="704.1" y2="1302.5" stroke="#505050" stroke-width="1.5"/>
<text x="704.1" y="1321.3" text-anchor="middle" font-size="19" fill="#262626">-50</text>
<line x1="763.6" y1="1297" x2="763.6" y2="1302.5" stroke="#505050" stroke-width="1.5"/>
<text x="763.6" y="1321.3" text-anchor="middle" font-size="19" fill="#262626">0</text>
<line x1="823.1" y1="1297" x2="823.1" y2="1302.5" stroke="#505050" stroke-width="1.5"/>
<text x="823.1" y="1321.3" text-anchor="middle" font-size="19" fill="#262626">50</text>
<line x1="882.6" y1="1297" x2="882.6" y2="1302.5" stroke="#505050" stroke-width="1.5"/>
<text x="882.6" y="1321.3" text-anchor="middle" font-size="19" fill="#262626">100</text>
<line x1="942.1" y1="1297" x2="942.1" y2="1302.5" stroke="#505050" stroke-width="1.5"/>
<text x="942.1" y="1321.3" text-anchor="middle" font-size="19" fill="#262626">150</text>
<line x1="614.85" y1="1297" x2="614.85" y2="1300" stroke="#505050" stroke-width="1.5"/>
<line x1="674.35" y1="1297" x2="674.35" y2="1300" stroke="#505050" stroke-width="1.5"/>
<line x1="733.85" y1="1297" x2="733.85" y2="1300" stroke="#505050" stroke-width="1.5"/>
<line x1="793.35" y1="1297" x2="793.35" y2="1300" stroke="#505050" stroke-width="1.5"/>
<line x1="852.85" y1="1297" x2="852.85" y2="1300" stroke="#505050" stroke-width="1.5"/>
<line x1="912.35" y1="1297" x2="912.35" y2="1300" stroke="#505050" stroke-width="1.5"/>
<path d="M585.1,1244.77 L585.6,1244.91 L586.1,1245.06 L586.6,1245.21 L587.1,1245.37 L587.6,1245.53 L588.1,1245.7 L588.6,1245.89 L589.11,1246.09 L589.61,1246.3 L590.11,1246.52 L590.61,1246.77 L591.11,1247.04 L591.61,1247.32 L592.11,1247.63 L592.61,1247.97 L593.11,1248.33 L593.61,1248.72 L594.11,1249.12 L594.61,1249.55 L595.11,1250 L595.61,1250.47 L596.12,1250.96 L596.62,1251.47 L597.12,1252 L597.62,1252.54 L598.12,1253.1 L598.62,1253.67 L599.12,1254.26 L599.62,1254.86 L600.12,1255.47 L600.62,1256.09 L601.12,1256.72 L601.62,1257.36 L602.12,1258.01 L602.62,1258.67 L603.13,1259.34 L603.63,1260.01 L604.13,1260.68 L604.63,1261.36 L605.13,1262.04 L605.63,1262.73 L606.13,1263.42 L606.63,1264.11 L607.13,1264.8 L607.63,1265.5 L608.13,1266.2 L608.63,1266.9 L609.13,1267.6 L609.63,1268.3 L610.14,1269 L610.64,1269.7 L611.14,1270.41 L611.64,1271.11 L612.14,1271.81 L612.64,1272.52 L613.14,1273.22 L613.64,1273.92 L614.14,1274.62 L614.64,1275.32 L615.14,1276.01 L615.64,1276.7 L616.14,1277.39 L616.64,1278.07 L617.14,1278.75 L617.65,1279.41 L618.15,1280.07 L618.65,1280.71 L619.15,1281.35 L619.65,1281.97 L620.15,1282.57 L620.65,1283.16 L621.15,1283.74 L621.65,1284.29 L622.15,1284.83 L622.65,1285.35 L623.15,1285.85 L623.65,1286.33 L624.15,1286.8 L624.66,1287.24 L625.16,1287.68 L625.66,1288.09 L626.16,1288.49 L626.66,1288.87 L627.16,1289.24 L627.66,1289.59 L628.16,1289.92 L628.66,1290.24 L629.16,1290.55 L629.66,1290.84 L630.16,1291.12 L630.66,1291.38 L631.16,1291.63 L631.67,1291.87 L632.17,1292.09 L632.67,1292.3 L633.17,1292.5 L633.67,1292.69 L634.17,1292.86 L634.67,1293.03 L635.17,1293.18 L635.67,1293.32 L636.17,1293.44 L636.67,1293.56 L637.17,1293.67 L637.67,1293.77 L638.17,1293.85 L638.68,1293.93 L639.18,1294 L639.68,1294.06 L640.18,1294.1 L640.68,1294.14 L641.18,1294.17 L641.68,1294.2 L642.18,1294.21 L642.68,1294.22 L643.18,1294.22 L643.68,1294.2 L644.18,1294.18 L644.68,1294.16 L645.18,1294.12 L645.68,1294.07 L646.19,1294.01 L646.69,1293.94 L647.19,1293.86 L647.69,1293.77 L648.19,1293.67 L648.69,1293.56 L649.19,1293.44 L649.69,1293.3 L650.19,1293.15 L650.69,1293 L651.19,1292.83 L651.69,1292.64 L652.19,1292.45 L652.69,1292.24 L653.2,1292.02 L653.7,1291.78 L654.2,1291.54 L654.7,1291.28 L655.2,1291.01 L655.7,1290.74 L656.2,1290.45 L656.7,1290.16 L657.2,1289.86 L657.7,1289.56 L658.2,1289.25 L658.7,1288.93 L659.2,1288.62 L659.7,1288.3 L660.21,1287.98 L660.71,1287.65 L661.21,1287.33 L661.71,1287.01 L662.21,1286.69 L662.71,1286.37 L663.21,1286.06 L663.71,1285.75 L664.21,1285.44 L664.71,1285.14 L665.21,1284.85 L665.71,1284.56 L666.21,1284.28 L666.71,1284.01 L667.22,1283.74 L667.72,1283.48 L668.22,1283.22 L668.72,1282.97 L669.22,1282.72 L669.72,1282.47 L670.22,1282.23 L670.72,1281.98 L671.22,1281.75 L671.72,1281.51 L672.22,1281.27 L672.72,1281.04 L673.22,1280.8 L673.72,1280.57 L674.22,1280.33 L674.73,1280.1 L675.23,1279.86 L675.73,1279.63 L676.23,1279.39 L676.73,1279.14 L677.23,1278.9 L677.73,1278.65 L678.23,1278.4 L678.73,1278.14 L679.23,1277.88 L679.73,1277.61 L680.23,1277.34 L680.73,1277.06 L681.23,1276.78 L681.74,1276.49 L682.24,1276.19 L682.74,1275.88 L683.24,1275.56 L683.74,1275.24 L684.24,1274.9 L684.74,1274.55 L685.24,1274.2 L685.74,1273.83 L686.24,1273.45 L686.74,1273.06 L687.24,1272.65 L687.74,1272.24 L688.24,1271.81 L688.75,1271.36 L689.25,1270.9 L689.75,1270.43 L690.25,1269.94 L690.75,1269.43 L691.25,1268.9 L691.75,1268.36 L692.25,1267.8 L692.75,1267.22 L693.25,1266.61 L693.75,1265.99 L694.25,1265.34 L694.75,1264.67 L695.25,1263.98 L695.75,1263.26 L696.26,1262.52 L696.76,1261.75 L697.26,1260.96 L697.76,1260.14 L698.26,1259.28 L698.76,1258.4 L699.26,1257.48 L699.76,1256.53 L700.26,1255.54 L700.76,1254.51 L701.26,1253.45 L701.76,1252.33 L702.26,1251.18 L702.76,1249.97 L703.27,1248.72 L703.77,1247.41 L704.27,1246.06 L704.77,1244.65 L705.27,1243.18 L705.77,1241.65 L706.27,1240.07 L706.77,1238.44 L707.27,1236.76 L707.77,1235.05 L708.27,1233.3 L708.77,1231.52 L709.27,1229.71 L709.77,1227.89 L710.28,1226.06 L710.78,1224.22 L711.28,1222.38 L711.78,1220.54 L712.28,1218.71 L712.78,1216.89 L713.28,1215.09 L713.78,1213.32 L714.28,1211.57 L714.78,1209.84 L715.28,1208.12 L715.78,1206.42 L716.28,1204.73 L716.78,1203.04 L717.29,1201.35 L717.79,1199.65 L718.29,1197.94 L718.79,1196.22 L719.29,1194.49 L719.79,1192.73 L720.29,1190.94 L720.79,1189.12 L721.29,1187.27 L721.79,1185.38 L722.29,1183.45 L722.79,1181.48 L723.29,1179.45 L723.79,1177.38 L724.29,1175.26 L724.8,1173.08 L725.3,1170.85 L725.8,1168.57 L726.3,1166.22 L726.8,1163.82 L727.3,1161.35 L727.8,1158.81 L728.3,1156.21 L728.8,1153.55 L729.3,1150.83 L729.8,1148.05 L730.3,1145.23 L730.8,1142.36 L731.3,1139.46 L731.81,1136.54 L732.31,1133.59 L732.81,1130.62 L733.31,1127.64 L733.81,1124.66 L734.31,1121.68 L734.81,1118.71 L735.31,1115.74 L735.81,1112.8 L736.31,1109.89 L736.81,1106.99 L737.31,1104.13 L737.81,1101.28 L738.31,1098.46 L738.82,1095.66 L739.32,1092.89 L739.82,1090.14 L740.32,1087.42 L740.82,1084.72 L741.32,1082.04 L741.82,1079.39 L742.32,1076.75 L742.82,1074.15 L743.32,1071.56 L743.82,1069 L744.32,1066.46 L744.82,1063.95 L745.32,1061.47 L745.83,1059.03 L746.33,1056.64 L746.83,1054.29 L747.33,1052 L747.83,1049.77 L748.33,1047.6 L748.83,1045.51 L749.33,1043.49 L749.83,1041.55 L750.33,1039.69 L750.83,1037.93 L751.33,1036.27 L751.83,1034.7 L752.33,1033.25 L752.83,1031.9 L753.34,1030.65 L753.84,1029.5 L754.34,1028.44 L754.84,1027.47 L755.34,1026.59 L755.84,1025.79 L756.34,1025.07 L756.84,1024.42 L757.34,1023.85 L757.84,1023.34 L758.34,1022.89 L758.84,1022.5 L759.34,1022.17 L759.84,1021.89 L760.35,1021.66 L760.85,1021.48 L761.35,1021.34 L761.85,1021.24 L762.35,1021.18 L762.85,1021.15 L763.35,1021.16 L763.85,1021.19 L764.35,1021.25 L764.85,1021.35 L765.35,1021.5 L765.85,1021.69 L766.35,1021.95 L766.85,1022.27 L767.36,1022.67 L767.86,1023.15 L768.36,1023.72 L768.86,1024.39 L769.36,1025.16 L769.86,1026.04 L770.36,1027.03 L770.86,1028.12 L771.36,1029.31 L771.86,1030.59 L772.36,1031.95 L772.86,1033.39 L773.36,1034.9 L773.86,1036.47 L774.37,1038.09 L774.87,1039.76 L775.37,1041.48 L775.87,1043.22 L776.37,1045 L776.87,1046.8 L777.37,1048.62 L777.87,1050.46 L778.37,1052.32 L778.87,1054.21 L779.37,1056.12 L779.87,1058.06 L780.37,1060.01 L780.87,1061.99 L781.37,1063.99 L781.88,1066.01 L782.38,1068.06 L782.88,1070.12 L783.38,1072.21 L783.88,1074.32 L784.38,1076.46 L784.88,1078.61 L785.38,1080.79 L785.88,1082.99 L786.38,1085.21 L786.88,1087.45 L787.38,1089.71 L787.88,1092 L788.38,1094.3 L788.89,1096.61 L789.39,1098.94 L789.89,1101.29 L790.39,1103.64 L790.89,1106.01 L791.39,1108.38 L791.89,1110.77 L792.39,1113.16 L792.89,1115.55 L793.39,1117.95 L793.89,1120.35 L794.39,1122.75 L794.89,1125.15 L795.39,1127.55 L795.9,1129.95 L796.4,1132.34 L796.9,1134.72 L797.4,1137.1 L797.9,1139.47 L798.4,1141.83 L798.9,1144.18 L799.4,1146.51 L799.9,1148.84 L800.4,1151.16 L800.9,1153.47 L801.4,1155.78 L801.9,1158.08 L802.4,1160.37 L802.91,1162.66 L803.41,1164.95 L803.91,1167.24 L804.41,1169.53 L804.91,1171.81 L805.41,1174.1 L805.91,1176.39 L806.41,1178.69 L806.91,1180.99 L807.41,1183.29 L807.91,1185.6 L808.41,1187.92 L808.91,1190.24 L809.41,1192.57 L809.91,1194.91 L810.42,1197.24 L810.92,1199.57 L811.42,1201.89 L811.92,1204.21 L812.42,1206.51 L812.92,1208.8 L813.42,1211.07 L813.92,1213.32 L814.42,1215.54 L814.92,1217.74 L815.42,1219.91 L815.92,1222.04 L816.42,1224.14 L816.92,1226.2 L817.43,1228.22 L817.93,1230.2 L818.43,1232.12 L818.93,1234 L819.43,1235.83 L819.93,1237.6 L820.43,1239.32 L820.93,1241 L821.43,1242.62 L821.93,1244.19 L822.43,1245.71 L822.93,1247.19 L823.43,1248.61 L823.93,1249.99 L824.44,1251.31 L824.94,1252.59 L825.44,1253.82 L825.94,1255 L826.44,1256.13 L826.94,1257.22 L827.44,1258.26 L827.94,1259.25 L828.44,1260.19 L828.94,1261.09 L829.44,1261.94 L829.94,1262.75 L830.44,1263.51 L830.94,1264.24 L831.45,1264.92 L831.95,1265.57 L832.45,1266.19 L832.95,1266.76 L833.45,1267.31 L833.95,1267.83 L834.45,1268.32 L834.95,1268.78 L835.45,1269.22 L835.95,1269.64 L836.45,1270.03 L836.95,1270.41 L837.45,1270.77 L837.95,1271.11 L838.45,1271.44 L838.96,1271.76 L839.46,1272.06 L839.96,1272.36 L840.46,1272.65 L840.96,1272.94 L841.46,1273.22 L841.96,1273.5 L842.46,1273.78 L842.96,1274.05 L843.46,1274.32 L843.96,1274.59 L844.46,1274.85 L844.96,1275.12 L845.46,1275.38 L845.97,1275.64 L846.47,1275.9 L846.97,1276.15 L847.47,1276.41 L847.97,1276.66 L848.47,1276.91 L848.97,1277.16 L849.47,1277.41 L849.97,1277.66 L850.47,1277.9 L850.97,1278.15 L851.47,1278.39 L851.97,1278.64 L852.47,1278.89 L852.98,1279.13 L853.48,1279.37 L853.98,1279.62 L854.48,1279.86 L854.98,1280.11 L855.48,1280.36 L855.98,1280.6 L856.48,1280.85 L856.98,1281.1 L857.48,1281.35 L857.98,1281.59 L858.48,1281.84 L858.98,1282.09 L859.48,1282.34 L859.98,1282.59 L860.49,1282.85 L860.99,1283.1 L861.49,1283.35 L861.99,1283.6 L862.49,1283.86 L862.99,1284.11 L863.49,1284.37 L863.99,1284.62 L864.49,1284.88 L864.99,1285.14 L865.49,1285.4 L865.99,1285.65 L866.49,1285.91 L866.99,1286.17 L867.5,1286.43 L868,1286.7 L868.5,1286.96 L869,1287.22 L869.5,1287.48 L870,1287.75 L870.5,1288.01 L871,1288.28 L871.5,1288.54 L872,1288.8 L872.5,1289.06 L873,1289.32 L873.5,1289.57 L874,1289.82 L874.51,1290.07 L875.01,1290.31 L875.51,1290.55 L876.01,1290.78 L876.51,1291.01 L877.01,1291.23 L877.51,1291.45 L878.01,1291.65 L878.51,1291.85 L879.01,1292.05 L879.51,1292.23 L880.01,1292.41 L880.51,1292.57 L881.01,1292.73 L881.52,1292.88 L882.02,1293.01 L882.52,1293.14 L883.02,1293.25 L883.52,1293.35 L884.02,1293.44 L884.52,1293.52 L885.02,1293.58 L885.52,1293.63 L886.02,1293.67 L886.52,1293.69 L887.02,1293.69 L887.52,1293.68 L888.02,1293.65 L888.52,1293.6 L889.03,1293.54 L889.53,1293.46 L890.03,1293.36 L890.53,1293.24 L891.03,1293.1 L891.53,1292.95 L892.03,1292.77 L892.53,1292.56 L893.03,1292.34 L893.53,1292.1 L894.03,1291.83 L894.53,1291.54 L895.03,1291.22 L895.53,1290.88 L896.04,1290.51 L896.54,1290.12 L897.04,1289.7 L897.54,1289.26 L898.04,1288.79 L898.54,1288.29 L899.04,1287.76 L899.54,1287.22 L900.04,1286.65 L900.54,1286.06 L901.04,1285.45 L901.54,1284.81 L902.04,1284.17 L902.54,1283.5 L903.05,1282.82 L903.55,1282.12 L904.05,1281.41 L904.55,1280.69 L905.05,1279.96 L905.55,1279.21 L906.05,1278.46 L906.55,1277.7 L907.05,1276.93 L907.55,1276.15 L908.05,1275.38 L908.55,1274.59 L909.05,1273.81 L909.55,1273.02 L910.06,1272.24 L910.56,1271.45 L911.06,1270.67 L911.56,1269.89 L912.06,1269.1 L912.56,1268.32 L913.06,1267.55 L913.56,1266.77 L914.06,1266 L914.56,1265.23 L915.06,1264.47 L915.56,1263.71 L916.06,1262.95 L916.56,1262.2 L917.06,1261.46 L917.57,1260.72 L918.07,1259.99 L918.57,1259.26 L919.07,1258.54 L919.57,1257.83 L920.07,1257.13 L920.57,1256.43 L921.07,1255.75 L921.57,1255.07 L922.07,1254.4 L922.57,1253.74 L923.07,1253.09 L923.57,1252.45 L924.07,1251.83 L924.58,1251.22 L925.08,1250.62 L925.58,1250.03 L926.08,1249.45 L926.58,1248.9 L927.08,1248.35 L927.58,1247.82 L928.08,1247.31 L928.58,1246.82 L929.08,1246.34 L929.58,1245.88 L930.08,1245.44 L930.58,1245.02 L931.08,1244.62 L931.59,1244.23 L932.09,1243.87 L932.59,1243.53 L933.09,1243.22 L933.59,1242.92 L934.09,1242.65 L934.59,1242.4 L935.09,1242.17 L935.59,1241.97 L936.09,1241.78 L936.59,1241.61 L937.09,1241.45 L937.59,1241.31 L938.09,1241.19 L938.6,1241.07 L939.1,1240.96 L939.6,1240.87 L940.1,1240.77 L940.6,1240.69 L941.1,1240.61 L941.6,1240.53 L942.1,1240.46" fill="none" stroke="#161616" stroke-width="2.6" stroke-linejoin="round" stroke-linecap="round"/>
<circle cx="585.1" cy="1246.2" r="3.3" fill="#fff" stroke="#e02ae4" stroke-width="2.8"/>
<circle cx="620.8" cy="1283.57" r="3.3" fill="#fff" stroke="#e02ae4" stroke-width="2.8"/>
<circle cx="656.5" cy="1289.6" r="3.3" fill="#fff" stroke="#e02ae4" stroke-width="2.8"/>
<circle cx="692.2" cy="1261.15" r="3.3" fill="#fff" stroke="#e02ae4" stroke-width="2.8"/>
<circle cx="727.9" cy="1154.52" r="3.3" fill="#fff" stroke="#e02ae4" stroke-width="2.8"/>
<circle cx="763.6" cy="1008.24" r="3.3" fill="#fff" stroke="#e02ae4" stroke-width="2.8"/>
<circle cx="799.3" cy="1143.6" r="3.3" fill="#fff" stroke="#e02ae4" stroke-width="2.8"/>
<circle cx="835" cy="1252.24" r="3.3" fill="#fff" stroke="#e02ae4" stroke-width="2.8"/>
<circle cx="870.7" cy="1286.73" r="3.3" fill="#fff" stroke="#e02ae4" stroke-width="2.8"/>
<circle cx="906.4" cy="1276.96" r="3.3" fill="#fff" stroke="#e02ae4" stroke-width="2.8"/>
<circle cx="942.1" cy="1246.2" r="3.3" fill="#fff" stroke="#e02ae4" stroke-width="2.8"/>
<line x1="786.9" y1="1022" x2="828.1" y2="1022" stroke="#161616" stroke-width="2.6"/>
<text x="833.3" y="1028" font-size="17.8" fill="#262626">Simulation</text>
<circle cx="807.5" cy="1046.1" r="3.3" fill="#fff" stroke="#e02ae4" stroke-width="2.8"/>
<text x="833.3" y="1051.3" font-size="17.8" fill="#262626">Measurement</text>
<text transform="translate(527.4,1140) rotate(-90)" text-anchor="middle" font-size="19.3" fill="#262626">Normalized intensity</text>
<text x="762.5" y="1353.8" text-anchor="middle" font-size="19.3" fill="#262626"><tspan font-style="italic">y</tspan> (mm)</text>
<text x="758.2" y="1393" text-anchor="middle" font-size="27" font-weight="bold" fill="#000">(<tspan font-style="italic">h</tspan>)</text>
<line x1="91.8" y1="1697.94" x2="91.8" y2="1722.3" stroke="#7272b8" stroke-width="1.4" stroke-dasharray="3.4 3.3"/>
<line x1="126.7" y1="1679.26" x2="126.7" y2="1722.3" stroke="#7272b8" stroke-width="1.4" stroke-dasharray="3.4 3.3"/>
<line x1="161.6" y1="1657.02" x2="161.6" y2="1722.3" stroke="#7272b8" stroke-width="1.4" stroke-dasharray="3.4 3.3"/>
<line x1="196.5" y1="1634.79" x2="196.5" y2="1722.3" stroke="#7272b8" stroke-width="1.4" stroke-dasharray="3.4 3.3"/>
<line x1="231.4" y1="1608.1" x2="231.4" y2="1722.3" stroke="#7272b8" stroke-width="1.4" stroke-dasharray="3.4 3.3"/>
<line x1="266.3" y1="1596.24" x2="266.3" y2="1722.3" stroke="#7272b8" stroke-width="1.4" stroke-dasharray="3.4 3.3"/>
<line x1="301.2" y1="1602.17" x2="301.2" y2="1722.3" stroke="#7272b8" stroke-width="1.4" stroke-dasharray="3.4 3.3"/>
<line x1="336.1" y1="1630.34" x2="336.1" y2="1722.3" stroke="#7272b8" stroke-width="1.4" stroke-dasharray="3.4 3.3"/>
<line x1="371" y1="1662.66" x2="371" y2="1722.3" stroke="#7272b8" stroke-width="1.4" stroke-dasharray="3.4 3.3"/>
<line x1="405.9" y1="1676" x2="405.9" y2="1722.3" stroke="#7272b8" stroke-width="1.4" stroke-dasharray="3.4 3.3"/>
<line x1="440.8" y1="1690.82" x2="440.8" y2="1722.3" stroke="#7272b8" stroke-width="1.4" stroke-dasharray="3.4 3.3"/>
<path d="M83.1,1425.7 V1722.3 H450" fill="none" stroke="#505050" stroke-width="1.8"/>
<line x1="77.6" y1="1722.2" x2="83.1" y2="1722.2" stroke="#505050" stroke-width="1.5"/>
<text x="72.9" y="1727.9" text-anchor="end" font-size="19" fill="#262626">0.0</text>
<line x1="80.1" y1="1692.55" x2="83.1" y2="1692.55" stroke="#505050" stroke-width="1.5"/>
<line x1="77.6" y1="1662.9" x2="83.1" y2="1662.9" stroke="#505050" stroke-width="1.5"/>
<text x="72.9" y="1668.6" text-anchor="end" font-size="19" fill="#262626">0.2</text>
<line x1="80.1" y1="1633.25" x2="83.1" y2="1633.25" stroke="#505050" stroke-width="1.5"/>
<line x1="77.6" y1="1603.6" x2="83.1" y2="1603.6" stroke="#505050" stroke-width="1.5"/>
<text x="72.9" y="1609.3" text-anchor="end" font-size="19" fill="#262626">0.4</text>
<line x1="80.1" y1="1573.95" x2="83.1" y2="1573.95" stroke="#505050" stroke-width="1.5"/>
<line x1="77.6" y1="1544.3" x2="83.1" y2="1544.3" stroke="#505050" stroke-width="1.5"/>
<text x="72.9" y="1550" text-anchor="end" font-size="19" fill="#262626">0.6</text>
<line x1="80.1" y1="1514.65" x2="83.1" y2="1514.65" stroke="#505050" stroke-width="1.5"/>
<line x1="77.6" y1="1485" x2="83.1" y2="1485" stroke="#505050" stroke-width="1.5"/>
<text x="72.9" y="1490.7" text-anchor="end" font-size="19" fill="#262626">0.8</text>
<line x1="80.1" y1="1455.35" x2="83.1" y2="1455.35" stroke="#505050" stroke-width="1.5"/>
<line x1="77.6" y1="1425.7" x2="83.1" y2="1425.7" stroke="#505050" stroke-width="1.5"/>
<text x="72.9" y="1431.4" text-anchor="end" font-size="19" fill="#262626">1.0</text>
<line x1="91.8" y1="1722.3" x2="91.8" y2="1727.8" stroke="#505050" stroke-width="1.5"/>
<text x="91.8" y="1746.6" text-anchor="middle" font-size="19" fill="#262626">-100</text>
<line x1="126.7" y1="1722.3" x2="126.7" y2="1727.8" stroke="#505050" stroke-width="1.5"/>
<text x="126.7" y="1746.6" text-anchor="middle" font-size="19" fill="#262626">-80</text>
<line x1="161.6" y1="1722.3" x2="161.6" y2="1727.8" stroke="#505050" stroke-width="1.5"/>
<text x="161.6" y="1746.6" text-anchor="middle" font-size="19" fill="#262626">-60</text>
<line x1="196.5" y1="1722.3" x2="196.5" y2="1727.8" stroke="#505050" stroke-width="1.5"/>
<text x="196.5" y="1746.6" text-anchor="middle" font-size="19" fill="#262626">-40</text>
<line x1="231.4" y1="1722.3" x2="231.4" y2="1727.8" stroke="#505050" stroke-width="1.5"/>
<text x="231.4" y="1746.6" text-anchor="middle" font-size="19" fill="#262626">-20</text>
<line x1="266.3" y1="1722.3" x2="266.3" y2="1727.8" stroke="#505050" stroke-width="1.5"/>
<text x="266.3" y="1746.6" text-anchor="middle" font-size="19" fill="#262626">0</text>
<line x1="301.2" y1="1722.3" x2="301.2" y2="1727.8" stroke="#505050" stroke-width="1.5"/>
<text x="301.2" y="1746.6" text-anchor="middle" font-size="19" fill="#262626">20</text>
<line x1="336.1" y1="1722.3" x2="336.1" y2="1727.8" stroke="#505050" stroke-width="1.5"/>
<text x="336.1" y="1746.6" text-anchor="middle" font-size="19" fill="#262626">40</text>
<line x1="371" y1="1722.3" x2="371" y2="1727.8" stroke="#505050" stroke-width="1.5"/>
<text x="371" y="1746.6" text-anchor="middle" font-size="19" fill="#262626">60</text>
<line x1="405.9" y1="1722.3" x2="405.9" y2="1727.8" stroke="#505050" stroke-width="1.5"/>
<text x="405.9" y="1746.6" text-anchor="middle" font-size="19" fill="#262626">80</text>
<line x1="440.8" y1="1722.3" x2="440.8" y2="1727.8" stroke="#505050" stroke-width="1.5"/>
<text x="440.8" y="1746.6" text-anchor="middle" font-size="19" fill="#262626">100</text>
<line x1="109.25" y1="1722.3" x2="109.25" y2="1725.3" stroke="#505050" stroke-width="1.5"/>
<line x1="144.15" y1="1722.3" x2="144.15" y2="1725.3" stroke="#505050" stroke-width="1.5"/>
<line x1="179.05" y1="1722.3" x2="179.05" y2="1725.3" stroke="#505050" stroke-width="1.5"/>
<line x1="213.95" y1="1722.3" x2="213.95" y2="1725.3" stroke="#505050" stroke-width="1.5"/>
<line x1="248.85" y1="1722.3" x2="248.85" y2="1725.3" stroke="#505050" stroke-width="1.5"/>
<line x1="283.75" y1="1722.3" x2="283.75" y2="1725.3" stroke="#505050" stroke-width="1.5"/>
<line x1="318.65" y1="1722.3" x2="318.65" y2="1725.3" stroke="#505050" stroke-width="1.5"/>
<line x1="353.55" y1="1722.3" x2="353.55" y2="1725.3" stroke="#505050" stroke-width="1.5"/>
<line x1="388.45" y1="1722.3" x2="388.45" y2="1725.3" stroke="#505050" stroke-width="1.5"/>
<line x1="423.35" y1="1722.3" x2="423.35" y2="1725.3" stroke="#505050" stroke-width="1.5"/>
<path d="M91.8,1687.21 L92.3,1687.06 L92.8,1686.91 L93.3,1686.77 L93.8,1686.62 L94.3,1686.47 L94.8,1686.32 L95.31,1686.17 L95.81,1686.02 L96.31,1685.86 L96.81,1685.71 L97.31,1685.56 L97.81,1685.41 L98.31,1685.25 L98.81,1685.1 L99.31,1684.94 L99.81,1684.78 L100.31,1684.63 L100.81,1684.47 L101.31,1684.31 L101.81,1684.14 L102.32,1683.98 L102.82,1683.82 L103.32,1683.65 L103.82,1683.48 L104.32,1683.31 L104.82,1683.14 L105.32,1682.97 L105.82,1682.8 L106.32,1682.62 L106.82,1682.44 L107.32,1682.26 L107.82,1682.08 L108.32,1681.9 L108.82,1681.71 L109.33,1681.52 L109.83,1681.33 L110.33,1681.14 L110.83,1680.94 L111.33,1680.74 L111.83,1680.54 L112.33,1680.34 L112.83,1680.13 L113.33,1679.93 L113.83,1679.72 L114.33,1679.5 L114.83,1679.29 L115.33,1679.07 L115.83,1678.85 L116.34,1678.63 L116.84,1678.41 L117.34,1678.18 L117.84,1677.95 L118.34,1677.72 L118.84,1677.49 L119.34,1677.26 L119.84,1677.02 L120.34,1676.78 L120.84,1676.54 L121.34,1676.3 L121.84,1676.05 L122.34,1675.81 L122.84,1675.56 L123.35,1675.31 L123.85,1675.05 L124.35,1674.8 L124.85,1674.54 L125.35,1674.28 L125.85,1674.02 L126.35,1673.76 L126.85,1673.49 L127.35,1673.23 L127.85,1672.96 L128.35,1672.69 L128.85,1672.42 L129.35,1672.14 L129.85,1671.87 L130.36,1671.59 L130.86,1671.31 L131.36,1671.03 L131.86,1670.75 L132.36,1670.47 L132.86,1670.18 L133.36,1669.9 L133.86,1669.61 L134.36,1669.32 L134.86,1669.03 L135.36,1668.74 L135.86,1668.45 L136.36,1668.16 L136.86,1667.86 L137.37,1667.57 L137.87,1667.27 L138.37,1666.98 L138.87,1666.68 L139.37,1666.38 L139.87,1666.09 L140.37,1665.79 L140.87,1665.49 L141.37,1665.19 L141.87,1664.89 L142.37,1664.58 L142.87,1664.28 L143.37,1663.98 L143.87,1663.68 L144.38,1663.38 L144.88,1663.07 L145.38,1662.77 L145.88,1662.47 L146.38,1662.16 L146.88,1661.86 L147.38,1661.56 L147.88,1661.25 L148.38,1660.95 L148.88,1660.64 L149.38,1660.33 L149.88,1660.03 L150.38,1659.72 L150.88,1659.41 L151.39,1659.1 L151.89,1658.79 L152.39,1658.48 L152.89,1658.17 L153.39,1657.86 L153.89,1657.54 L154.39,1657.23 L154.89,1656.91 L155.39,1656.59 L155.89,1656.27 L156.39,1655.95 L156.89,1655.63 L157.39,1655.31 L157.89,1654.98 L158.4,1654.65 L158.9,1654.33 L159.4,1654 L159.9,1653.66 L160.4,1653.33 L160.9,1653 L161.4,1652.66 L161.9,1652.32 L162.4,1651.98 L162.9,1651.64 L163.4,1651.29 L163.9,1650.94 L164.4,1650.6 L164.9,1650.25 L165.41,1649.9 L165.91,1649.54 L166.41,1649.19 L166.91,1648.84 L167.41,1648.48 L167.91,1648.12 L168.41,1647.76 L168.91,1647.41 L169.41,1647.05 L169.91,1646.69 L170.41,1646.32 L170.91,1645.96 L171.41,1645.6 L171.91,1645.24 L172.42,1644.88 L172.92,1644.51 L173.42,1644.15 L173.92,1643.79 L174.42,1643.42 L174.92,1643.06 L175.42,1642.69 L175.92,1642.33 L176.42,1641.97 L176.92,1641.61 L177.42,1641.24 L177.92,1640.88 L178.42,1640.52 L178.92,1640.16 L179.43,1639.8 L179.93,1639.44 L180.43,1639.08 L180.93,1638.72 L181.43,1638.37 L181.93,1638.01 L182.43,1637.65 L182.93,1637.3 L183.43,1636.94 L183.93,1636.59 L184.43,1636.23 L184.93,1635.88 L185.43,1635.52 L185.93,1635.17 L186.44,1634.81 L186.94,1634.46 L187.44,1634.1 L187.94,1633.75 L188.44,1633.39 L188.94,1633.04 L189.44,1632.68 L189.94,1632.33 L190.44,1631.97 L190.94,1631.62 L191.44,1631.26 L191.94,1630.9 L192.44,1630.54 L192.94,1630.18 L193.45,1629.83 L193.95,1629.47 L194.45,1629.1 L194.95,1628.74 L195.45,1628.38 L195.95,1628.02 L196.45,1627.65 L196.95,1627.29 L197.45,1626.92 L197.95,1626.55 L198.45,1626.19 L198.95,1625.82 L199.45,1625.45 L199.95,1625.08 L200.46,1624.71 L200.96,1624.34 L201.46,1623.97 L201.96,1623.6 L202.46,1623.23 L202.96,1622.86 L203.46,1622.49 L203.96,1622.13 L204.46,1621.76 L204.96,1621.39 L205.46,1621.02 L205.96,1620.66 L206.46,1620.29 L206.96,1619.93 L207.47,1619.57 L207.97,1619.21 L208.47,1618.85 L208.97,1618.49 L209.47,1618.14 L209.97,1617.78 L210.47,1617.43 L210.97,1617.08 L211.47,1616.73 L211.97,1616.39 L212.47,1616.04 L212.97,1615.7 L213.47,1615.37 L213.98,1615.03 L214.48,1614.7 L214.98,1614.37 L215.48,1614.04 L215.98,1613.72 L216.48,1613.39 L216.98,1613.08 L217.48,1612.76 L217.98,1612.45 L218.48,1612.13 L218.98,1611.83 L219.48,1611.52 L219.98,1611.22 L220.48,1610.92 L220.99,1610.62 L221.49,1610.33 L221.99,1610.04 L222.49,1609.75 L222.99,1609.46 L223.49,1609.18 L223.99,1608.9 L224.49,1608.62 L224.99,1608.35 L225.49,1608.08 L225.99,1607.81 L226.49,1607.54 L226.99,1607.28 L227.49,1607.02 L228,1606.76 L228.5,1606.51 L229,1606.25 L229.5,1606 L230,1605.76 L230.5,1605.51 L231,1605.27 L231.5,1605.04 L232,1604.8 L232.5,1604.57 L233,1604.34 L233.5,1604.11 L234,1603.89 L234.5,1603.67 L235.01,1603.45 L235.51,1603.23 L236.01,1603.02 L236.51,1602.81 L237.01,1602.61 L237.51,1602.41 L238.01,1602.21 L238.51,1602.01 L239.01,1601.82 L239.51,1601.63 L240.01,1601.44 L240.51,1601.26 L241.01,1601.08 L241.51,1600.9 L242.02,1600.73 L242.52,1600.56 L243.02,1600.4 L243.52,1600.23 L244.02,1600.08 L244.52,1599.92 L245.02,1599.77 L245.52,1599.62 L246.02,1599.47 L246.52,1599.33 L247.02,1599.2 L247.52,1599.06 L248.02,1598.93 L248.52,1598.81 L249.03,1598.68 L249.53,1598.57 L250.03,1598.45 L250.53,1598.34 L251.03,1598.23 L251.53,1598.13 L252.03,1598.03 L252.53,1597.93 L253.03,1597.84 L253.53,1597.75 L254.03,1597.67 L254.53,1597.59 L255.03,1597.51 L255.53,1597.44 L256.04,1597.37 L256.54,1597.3 L257.04,1597.24 L257.54,1597.18 L258.04,1597.13 L258.54,1597.08 L259.04,1597.03 L259.54,1596.99 L260.04,1596.95 L260.54,1596.91 L261.04,1596.88 L261.54,1596.85 L262.04,1596.83 L262.54,1596.81 L263.05,1596.79 L263.55,1596.78 L264.05,1596.77 L264.55,1596.77 L265.05,1596.77 L265.55,1596.77 L266.05,1596.78 L266.55,1596.79 L267.05,1596.8 L267.55,1596.82 L268.05,1596.84 L268.55,1596.86 L269.05,1596.89 L269.55,1596.93 L270.06,1596.96 L270.56,1597 L271.06,1597.04 L271.56,1597.09 L272.06,1597.14 L272.56,1597.19 L273.06,1597.24 L273.56,1597.3 L274.06,1597.36 L274.56,1597.42 L275.06,1597.49 L275.56,1597.56 L276.06,1597.63 L276.56,1597.7 L277.07,1597.78 L277.57,1597.86 L278.07,1597.94 L278.57,1598.02 L279.07,1598.1 L279.57,1598.19 L280.07,1598.28 L280.57,1598.37 L281.07,1598.47 L281.57,1598.56 L282.07,1598.66 L282.57,1598.76 L283.07,1598.86 L283.57,1598.96 L284.08,1599.07 L284.58,1599.17 L285.08,1599.28 L285.58,1599.39 L286.08,1599.5 L286.58,1599.62 L287.08,1599.73 L287.58,1599.85 L288.08,1599.97 L288.58,1600.1 L289.08,1600.22 L289.58,1600.35 L290.08,1600.48 L290.58,1600.61 L291.09,1600.75 L291.59,1600.89 L292.09,1601.03 L292.59,1601.17 L293.09,1601.32 L293.59,1601.47 L294.09,1601.63 L294.59,1601.78 L295.09,1601.94 L295.59,1602.11 L296.09,1602.28 L296.59,1602.45 L297.09,1602.62 L297.59,1602.8 L298.1,1602.98 L298.6,1603.17 L299.1,1603.36 L299.6,1603.55 L300.1,1603.75 L300.6,1603.95 L301.1,1604.15 L301.6,1604.36 L302.1,1604.58 L302.6,1604.8 L303.1,1605.02 L303.6,1605.25 L304.1,1605.48 L304.6,1605.71 L305.11,1605.95 L305.61,1606.19 L306.11,1606.44 L306.61,1606.69 L307.11,1606.95 L307.61,1607.2 L308.11,1607.47 L308.61,1607.73 L309.11,1608 L309.61,1608.27 L310.11,1608.55 L310.61,1608.83 L311.11,1609.11 L311.61,1609.39 L312.12,1609.68 L312.62,1609.97 L313.12,1610.27 L313.62,1610.57 L314.12,1610.87 L314.62,1611.17 L315.12,1611.48 L315.62,1611.78 L316.12,1612.1 L316.62,1612.41 L317.12,1612.73 L317.62,1613.04 L318.12,1613.37 L318.62,1613.69 L319.13,1614.01 L319.63,1614.34 L320.13,1614.67 L320.63,1615 L321.13,1615.34 L321.63,1615.67 L322.13,1616.01 L322.63,1616.35 L323.13,1616.69 L323.63,1617.04 L324.13,1617.38 L324.63,1617.73 L325.13,1618.08 L325.64,1618.43 L326.14,1618.79 L326.64,1619.14 L327.14,1619.5 L327.64,1619.86 L328.14,1620.22 L328.64,1620.58 L329.14,1620.95 L329.64,1621.31 L330.14,1621.68 L330.64,1622.05 L331.14,1622.42 L331.64,1622.8 L332.14,1623.17 L332.65,1623.55 L333.15,1623.92 L333.65,1624.3 L334.15,1624.68 L334.65,1625.07 L335.15,1625.45 L335.65,1625.84 L336.15,1626.22 L336.65,1626.61 L337.15,1627 L337.65,1627.39 L338.15,1627.79 L338.65,1628.18 L339.15,1628.58 L339.66,1628.97 L340.16,1629.37 L340.66,1629.77 L341.16,1630.17 L341.66,1630.58 L342.16,1630.98 L342.66,1631.39 L343.16,1631.79 L343.66,1632.2 L344.16,1632.61 L344.66,1633.02 L345.16,1633.43 L345.66,1633.84 L346.16,1634.26 L346.67,1634.67 L347.17,1635.09 L347.67,1635.51 L348.17,1635.93 L348.67,1636.35 L349.17,1636.77 L349.67,1637.19 L350.17,1637.62 L350.67,1638.04 L351.17,1638.47 L351.67,1638.89 L352.17,1639.32 L352.67,1639.75 L353.17,1640.18 L353.68,1640.61 L354.18,1641.05 L354.68,1641.48 L355.18,1641.92 L355.68,1642.35 L356.18,1642.79 L356.68,1643.22 L357.18,1643.66 L357.68,1644.1 L358.18,1644.54 L358.68,1644.98 L359.18,1645.41 L359.68,1645.85 L360.18,1646.29 L360.69,1646.73 L361.19,1647.17 L361.69,1647.6 L362.19,1648.04 L362.69,1648.48 L363.19,1648.91 L363.69,1649.35 L364.19,1649.78 L364.69,1650.21 L365.19,1650.64 L365.69,1651.07 L366.19,1651.5 L366.69,1651.93 L367.19,1652.36 L367.7,1652.78 L368.2,1653.2 L368.7,1653.62 L369.2,1654.04 L369.7,1654.46 L370.2,1654.87 L370.7,1655.28 L371.2,1655.69 L371.7,1656.1 L372.2,1656.5 L372.7,1656.9 L373.2,1657.3 L373.7,1657.7 L374.2,1658.09 L374.71,1658.48 L375.21,1658.87 L375.71,1659.25 L376.21,1659.63 L376.71,1660.01 L377.21,1660.38 L377.71,1660.75 L378.21,1661.12 L378.71,1661.49 L379.21,1661.85 L379.71,1662.21 L380.21,1662.56 L380.71,1662.91 L381.21,1663.26 L381.72,1663.6 L382.22,1663.94 L382.72,1664.28 L383.22,1664.61 L383.72,1664.94 L384.22,1665.26 L384.72,1665.58 L385.22,1665.9 L385.72,1666.21 L386.22,1666.52 L386.72,1666.82 L387.22,1667.12 L387.72,1667.42 L388.22,1667.71 L388.73,1668 L389.23,1668.28 L389.73,1668.56 L390.23,1668.83 L390.73,1669.1 L391.23,1669.37 L391.73,1669.63 L392.23,1669.89 L392.73,1670.15 L393.23,1670.4 L393.73,1670.65 L394.23,1670.9 L394.73,1671.14 L395.23,1671.38 L395.74,1671.62 L396.24,1671.85 L396.74,1672.09 L397.24,1672.32 L397.74,1672.55 L398.24,1672.77 L398.74,1673 L399.24,1673.22 L399.74,1673.44 L400.24,1673.66 L400.74,1673.88 L401.24,1674.1 L401.74,1674.32 L402.24,1674.53 L402.75,1674.75 L403.25,1674.96 L403.75,1675.18 L404.25,1675.39 L404.75,1675.6 L405.25,1675.82 L405.75,1676.03 L406.25,1676.24 L406.75,1676.46 L407.25,1676.67 L407.75,1676.88 L408.25,1677.1 L408.75,1677.31 L409.25,1677.53 L409.76,1677.74 L410.26,1677.96 L410.76,1678.17 L411.26,1678.38 L411.76,1678.6 L412.26,1678.81 L412.76,1679.02 L413.26,1679.23 L413.76,1679.44 L414.26,1679.65 L414.76,1679.85 L415.26,1680.06 L415.76,1680.26 L416.26,1680.47 L416.77,1680.67 L417.27,1680.87 L417.77,1681.06 L418.27,1681.26 L418.77,1681.45 L419.27,1681.64 L419.77,1681.83 L420.27,1682.01 L420.77,1682.19 L421.27,1682.37 L421.77,1682.55 L422.27,1682.72 L422.77,1682.89 L423.27,1683.05 L423.78,1683.22 L424.28,1683.38 L424.78,1683.53 L425.28,1683.68 L425.78,1683.83 L426.28,1683.98 L426.78,1684.12 L427.28,1684.26 L427.78,1684.39 L428.28,1684.52 L428.78,1684.65 L429.28,1684.78 L429.78,1684.9 L430.28,1685.03 L430.79,1685.15 L431.29,1685.26 L431.79,1685.38 L432.29,1685.49 L432.79,1685.6 L433.29,1685.71 L433.79,1685.82 L434.29,1685.93 L434.79,1686.03 L435.29,1686.13 L435.79,1686.24 L436.29,1686.34 L436.79,1686.44 L437.29,1686.54 L437.8,1686.63 L438.3,1686.73 L438.8,1686.83 L439.3,1686.92 L439.8,1687.02 L440.3,1687.12 L440.8,1687.21" fill="none" stroke="#e0161e" stroke-width="2.6" stroke-linejoin="round" stroke-linecap="round"/>
<circle cx="91.8" cy="1693.44" r="3.3" fill="#fff" stroke="#2414dc" stroke-width="2.8"/>
<circle cx="126.7" cy="1674.76" r="3.3" fill="#fff" stroke="#2414dc" stroke-width="2.8"/>
<circle cx="161.6" cy="1652.52" r="3.3" fill="#fff" stroke="#2414dc" stroke-width="2.8"/>
<circle cx="196.5" cy="1630.29" r="3.3" fill="#fff" stroke="#2414dc" stroke-width="2.8"/>
<circle cx="231.4" cy="1603.6" r="3.3" fill="#fff" stroke="#2414dc" stroke-width="2.8"/>
<circle cx="266.3" cy="1591.74" r="3.3" fill="#fff" stroke="#2414dc" stroke-width="2.8"/>
<circle cx="301.2" cy="1597.67" r="3.3" fill="#fff" stroke="#2414dc" stroke-width="2.8"/>
<circle cx="336.1" cy="1625.84" r="3.3" fill="#fff" stroke="#2414dc" stroke-width="2.8"/>
<circle cx="371" cy="1658.16" r="3.3" fill="#fff" stroke="#2414dc" stroke-width="2.8"/>
<circle cx="405.9" cy="1671.5" r="3.3" fill="#fff" stroke="#2414dc" stroke-width="2.8"/>
<circle cx="440.8" cy="1686.32" r="3.3" fill="#fff" stroke="#2414dc" stroke-width="2.8"/>
<line x1="283.8" y1="1442.5" x2="325.9" y2="1442.5" stroke="#e0161e" stroke-width="2.6"/>
<text x="330.2" y="1448.6" font-size="17.9" fill="#262626">Simulation</text>
<circle cx="305.2" cy="1468.2" r="3.3" fill="#fff" stroke="#2414dc" stroke-width="2.8"/>
<text x="330.2" y="1473" font-size="17.9" fill="#262626">Measurement</text>
<text transform="translate(30,1566) rotate(-90)" text-anchor="middle" font-size="19.4" fill="#262626">Normalized intensity</text>
<text x="266" y="1778.5" text-anchor="middle" font-size="19.3" fill="#262626"><tspan font-style="italic">z</tspan> (mm)</text>
<text x="261.3" y="1813.5" text-anchor="middle" font-size="27" font-weight="bold" fill="#000">(<tspan font-style="italic">i</tspan>)</text>
<line x1="586.6" y1="1716.38" x2="586.6" y2="1722.4" stroke="#d6a2d8" stroke-width="1.4" stroke-dasharray="3.4 3.3"/>
<line x1="621.85" y1="1712.62" x2="621.85" y2="1722.4" stroke="#d6a2d8" stroke-width="1.4" stroke-dasharray="3.4 3.3"/>
<line x1="657.1" y1="1687.43" x2="657.1" y2="1722.4" stroke="#d6a2d8" stroke-width="1.4" stroke-dasharray="3.4 3.3"/>
<line x1="692.35" y1="1637.93" x2="692.35" y2="1722.4" stroke="#d6a2d8" stroke-width="1.4" stroke-dasharray="3.4 3.3"/>
<line x1="727.6" y1="1493.76" x2="727.6" y2="1722.4" stroke="#d6a2d8" stroke-width="1.4" stroke-dasharray="3.4 3.3"/>
<line x1="762.85" y1="1436.73" x2="762.85" y2="1722.4" stroke="#d6a2d8" stroke-width="1.4" stroke-dasharray="3.4 3.3"/>
<line x1="798.1" y1="1496.65" x2="798.1" y2="1722.4" stroke="#d6a2d8" stroke-width="1.4" stroke-dasharray="3.4 3.3"/>
<line x1="833.35" y1="1652.4" x2="833.35" y2="1722.4" stroke="#d6a2d8" stroke-width="1.4" stroke-dasharray="3.4 3.3"/>
<line x1="868.6" y1="1689.46" x2="868.6" y2="1722.4" stroke="#d6a2d8" stroke-width="1.4" stroke-dasharray="3.4 3.3"/>
<line x1="903.85" y1="1711.75" x2="903.85" y2="1722.4" stroke="#d6a2d8" stroke-width="1.4" stroke-dasharray="3.4 3.3"/>
<line x1="939.1" y1="1720.15" x2="939.1" y2="1722.4" stroke="#d6a2d8" stroke-width="1.4" stroke-dasharray="3.4 3.3"/>
<path d="M577.8,1424.2 V1722.4 H948" fill="none" stroke="#505050" stroke-width="1.8"/>
<line x1="572.3" y1="1719.7" x2="577.8" y2="1719.7" stroke="#505050" stroke-width="1.5"/>
<text x="567.6" y="1725.4" text-anchor="end" font-size="19" fill="#262626">0.0</text>
<line x1="574.8" y1="1690.75" x2="577.8" y2="1690.75" stroke="#505050" stroke-width="1.5"/>
<line x1="572.3" y1="1661.8" x2="577.8" y2="1661.8" stroke="#505050" stroke-width="1.5"/>
<text x="567.6" y="1667.5" text-anchor="end" font-size="19" fill="#262626">0.2</text>
<line x1="574.8" y1="1632.85" x2="577.8" y2="1632.85" stroke="#505050" stroke-width="1.5"/>
<line x1="572.3" y1="1603.9" x2="577.8" y2="1603.9" stroke="#505050" stroke-width="1.5"/>
<text x="567.6" y="1609.6" text-anchor="end" font-size="19" fill="#262626">0.4</text>
<line x1="574.8" y1="1574.95" x2="577.8" y2="1574.95" stroke="#505050" stroke-width="1.5"/>
<line x1="572.3" y1="1546" x2="577.8" y2="1546" stroke="#505050" stroke-width="1.5"/>
<text x="567.6" y="1551.7" text-anchor="end" font-size="19" fill="#262626">0.6</text>
<line x1="574.8" y1="1517.05" x2="577.8" y2="1517.05" stroke="#505050" stroke-width="1.5"/>
<line x1="572.3" y1="1488.1" x2="577.8" y2="1488.1" stroke="#505050" stroke-width="1.5"/>
<text x="567.6" y="1493.8" text-anchor="end" font-size="19" fill="#262626">0.8</text>
<line x1="574.8" y1="1459.15" x2="577.8" y2="1459.15" stroke="#505050" stroke-width="1.5"/>
<line x1="572.3" y1="1430.2" x2="577.8" y2="1430.2" stroke="#505050" stroke-width="1.5"/>
<text x="567.6" y="1435.9" text-anchor="end" font-size="19" fill="#262626">1.0</text>
<line x1="586.6" y1="1722.4" x2="586.6" y2="1727.9" stroke="#505050" stroke-width="1.5"/>
<text x="586.6" y="1746.7" text-anchor="middle" font-size="19" fill="#262626">-100</text>
<line x1="621.85" y1="1722.4" x2="621.85" y2="1727.9" stroke="#505050" stroke-width="1.5"/>
<text x="621.85" y="1746.7" text-anchor="middle" font-size="19" fill="#262626">-80</text>
<line x1="657.1" y1="1722.4" x2="657.1" y2="1727.9" stroke="#505050" stroke-width="1.5"/>
<text x="657.1" y="1746.7" text-anchor="middle" font-size="19" fill="#262626">-60</text>
<line x1="692.35" y1="1722.4" x2="692.35" y2="1727.9" stroke="#505050" stroke-width="1.5"/>
<text x="692.35" y="1746.7" text-anchor="middle" font-size="19" fill="#262626">-40</text>
<line x1="727.6" y1="1722.4" x2="727.6" y2="1727.9" stroke="#505050" stroke-width="1.5"/>
<text x="727.6" y="1746.7" text-anchor="middle" font-size="19" fill="#262626">-20</text>
<line x1="762.85" y1="1722.4" x2="762.85" y2="1727.9" stroke="#505050" stroke-width="1.5"/>
<text x="762.85" y="1746.7" text-anchor="middle" font-size="19" fill="#262626">0</text>
<line x1="798.1" y1="1722.4" x2="798.1" y2="1727.9" stroke="#505050" stroke-width="1.5"/>
<text x="798.1" y="1746.7" text-anchor="middle" font-size="19" fill="#262626">20</text>
<line x1="833.35" y1="1722.4" x2="833.35" y2="1727.9" stroke="#505050" stroke-width="1.5"/>
<text x="833.35" y="1746.7" text-anchor="middle" font-size="19" fill="#262626">40</text>
<line x1="868.6" y1="1722.4" x2="868.6" y2="1727.9" stroke="#505050" stroke-width="1.5"/>
<text x="868.6" y="1746.7" text-anchor="middle" font-size="19" fill="#262626">60</text>
<line x1="903.85" y1="1722.4" x2="903.85" y2="1727.9" stroke="#505050" stroke-width="1.5"/>
<text x="903.85" y="1746.7" text-anchor="middle" font-size="19" fill="#262626">80</text>
<line x1="939.1" y1="1722.4" x2="939.1" y2="1727.9" stroke="#505050" stroke-width="1.5"/>
<text x="939.1" y="1746.7" text-anchor="middle" font-size="19" fill="#262626">100</text>
<line x1="604.23" y1="1722.4" x2="604.23" y2="1725.4" stroke="#505050" stroke-width="1.5"/>
<line x1="639.48" y1="1722.4" x2="639.48" y2="1725.4" stroke="#505050" stroke-width="1.5"/>
<line x1="674.73" y1="1722.4" x2="674.73" y2="1725.4" stroke="#505050" stroke-width="1.5"/>
<line x1="709.98" y1="1722.4" x2="709.98" y2="1725.4" stroke="#505050" stroke-width="1.5"/>
<line x1="745.23" y1="1722.4" x2="745.23" y2="1725.4" stroke="#505050" stroke-width="1.5"/>
<line x1="780.48" y1="1722.4" x2="780.48" y2="1725.4" stroke="#505050" stroke-width="1.5"/>
<line x1="815.73" y1="1722.4" x2="815.73" y2="1725.4" stroke="#505050" stroke-width="1.5"/>
<line x1="850.98" y1="1722.4" x2="850.98" y2="1725.4" stroke="#505050" stroke-width="1.5"/>
<line x1="886.23" y1="1722.4" x2="886.23" y2="1725.4" stroke="#505050" stroke-width="1.5"/>
<line x1="921.48" y1="1722.4" x2="921.48" y2="1725.4" stroke="#505050" stroke-width="1.5"/>
<path d="M586.6,1719.12 L587.1,1718.94 L587.6,1718.75 L588.1,1718.57 L588.6,1718.39 L589.1,1718.2 L589.6,1718.02 L590.1,1717.84 L590.61,1717.65 L591.11,1717.47 L591.61,1717.29 L592.11,1717.11 L592.61,1716.92 L593.11,1716.74 L593.61,1716.56 L594.11,1716.38 L594.61,1716.2 L595.11,1716.01 L595.61,1715.83 L596.11,1715.65 L596.61,1715.47 L597.11,1715.29 L597.62,1715.11 L598.12,1714.93 L598.62,1714.75 L599.12,1714.57 L599.62,1714.4 L600.12,1714.22 L600.62,1714.04 L601.12,1713.86 L601.62,1713.69 L602.12,1713.51 L602.62,1713.33 L603.12,1713.16 L603.62,1712.98 L604.12,1712.81 L604.63,1712.63 L605.13,1712.46 L605.63,1712.29 L606.13,1712.11 L606.63,1711.94 L607.13,1711.77 L607.63,1711.6 L608.13,1711.43 L608.63,1711.26 L609.13,1711.09 L609.63,1710.92 L610.13,1710.75 L610.63,1710.58 L611.13,1710.41 L611.64,1710.25 L612.14,1710.08 L612.64,1709.91 L613.14,1709.75 L613.64,1709.58 L614.14,1709.42 L614.64,1709.26 L615.14,1709.09 L615.64,1708.93 L616.14,1708.77 L616.64,1708.61 L617.14,1708.44 L617.64,1708.28 L618.14,1708.12 L618.65,1707.97 L619.15,1707.81 L619.65,1707.65 L620.15,1707.49 L620.65,1707.34 L621.15,1707.18 L621.65,1707.02 L622.15,1706.87 L622.65,1706.72 L623.15,1706.56 L623.65,1706.41 L624.15,1706.26 L624.65,1706.1 L625.15,1705.95 L625.66,1705.8 L626.16,1705.65 L626.66,1705.49 L627.16,1705.34 L627.66,1705.19 L628.16,1705.04 L628.66,1704.88 L629.16,1704.73 L629.66,1704.58 L630.16,1704.42 L630.66,1704.27 L631.16,1704.11 L631.66,1703.95 L632.16,1703.8 L632.67,1703.64 L633.17,1703.48 L633.67,1703.32 L634.17,1703.15 L634.67,1702.99 L635.17,1702.83 L635.67,1702.66 L636.17,1702.49 L636.67,1702.32 L637.17,1702.15 L637.67,1701.98 L638.17,1701.8 L638.67,1701.62 L639.17,1701.44 L639.68,1701.26 L640.18,1701.08 L640.68,1700.89 L641.18,1700.71 L641.68,1700.52 L642.18,1700.32 L642.68,1700.13 L643.18,1699.93 L643.68,1699.73 L644.18,1699.53 L644.68,1699.33 L645.18,1699.12 L645.68,1698.91 L646.18,1698.71 L646.69,1698.49 L647.19,1698.28 L647.69,1698.07 L648.19,1697.85 L648.69,1697.63 L649.19,1697.41 L649.69,1697.19 L650.19,1696.97 L650.69,1696.74 L651.19,1696.52 L651.69,1696.29 L652.19,1696.06 L652.69,1695.83 L653.19,1695.6 L653.7,1695.37 L654.2,1695.14 L654.7,1694.9 L655.2,1694.67 L655.7,1694.43 L656.2,1694.2 L656.7,1693.96 L657.2,1693.72 L657.7,1693.48 L658.2,1693.23 L658.7,1692.99 L659.2,1692.74 L659.7,1692.48 L660.2,1692.22 L660.71,1691.95 L661.21,1691.67 L661.71,1691.39 L662.21,1691.1 L662.71,1690.79 L663.21,1690.48 L663.71,1690.15 L664.21,1689.81 L664.71,1689.45 L665.21,1689.09 L665.71,1688.7 L666.21,1688.3 L666.71,1687.88 L667.21,1687.45 L667.72,1686.99 L668.22,1686.52 L668.72,1686.02 L669.22,1685.51 L669.72,1684.97 L670.22,1684.41 L670.72,1683.83 L671.22,1683.23 L671.72,1682.61 L672.22,1681.97 L672.72,1681.3 L673.22,1680.62 L673.72,1679.92 L674.22,1679.2 L674.73,1678.46 L675.23,1677.71 L675.73,1676.93 L676.23,1676.14 L676.73,1675.33 L677.23,1674.5 L677.73,1673.65 L678.23,1672.79 L678.73,1671.91 L679.23,1671.01 L679.73,1670.1 L680.23,1669.18 L680.73,1668.23 L681.23,1667.27 L681.73,1666.3 L682.24,1665.31 L682.74,1664.31 L683.24,1663.29 L683.74,1662.26 L684.24,1661.21 L684.74,1660.14 L685.24,1659.06 L685.74,1657.96 L686.24,1656.85 L686.74,1655.72 L687.24,1654.57 L687.74,1653.41 L688.24,1652.23 L688.74,1651.04 L689.25,1649.83 L689.75,1648.6 L690.25,1647.35 L690.75,1646.09 L691.25,1644.81 L691.75,1643.52 L692.25,1642.2 L692.75,1640.87 L693.25,1639.52 L693.75,1638.16 L694.25,1636.77 L694.75,1635.37 L695.25,1633.95 L695.75,1632.51 L696.26,1631.06 L696.76,1629.58 L697.26,1628.09 L697.76,1626.57 L698.26,1625.04 L698.76,1623.49 L699.26,1621.92 L699.76,1620.33 L700.26,1618.72 L700.76,1617.09 L701.26,1615.44 L701.76,1613.77 L702.26,1612.09 L702.76,1610.38 L703.27,1608.65 L703.77,1606.91 L704.27,1605.15 L704.77,1603.38 L705.27,1601.58 L705.77,1599.78 L706.27,1597.96 L706.77,1596.13 L707.27,1594.28 L707.77,1592.42 L708.27,1590.55 L708.77,1588.67 L709.27,1586.78 L709.77,1584.88 L710.28,1582.97 L710.78,1581.05 L711.28,1579.13 L711.78,1577.2 L712.28,1575.26 L712.78,1573.32 L713.28,1571.37 L713.78,1569.41 L714.28,1567.45 L714.78,1565.48 L715.28,1563.51 L715.78,1561.53 L716.28,1559.55 L716.78,1557.56 L717.29,1555.57 L717.79,1553.57 L718.29,1551.56 L718.79,1549.56 L719.29,1547.55 L719.79,1545.53 L720.29,1543.51 L720.79,1541.49 L721.29,1539.47 L721.79,1537.44 L722.29,1535.4 L722.79,1533.37 L723.29,1531.34 L723.79,1529.32 L724.3,1527.3 L724.8,1525.29 L725.3,1523.28 L725.8,1521.3 L726.3,1519.32 L726.8,1517.36 L727.3,1515.42 L727.8,1513.51 L728.3,1511.61 L728.8,1509.74 L729.3,1507.9 L729.8,1506.09 L730.3,1504.31 L730.8,1502.56 L731.31,1500.85 L731.81,1499.18 L732.31,1497.54 L732.81,1495.94 L733.31,1494.38 L733.81,1492.85 L734.31,1491.36 L734.81,1489.9 L735.31,1488.46 L735.81,1487.05 L736.31,1485.67 L736.81,1484.32 L737.31,1482.98 L737.81,1481.67 L738.32,1480.38 L738.82,1479.1 L739.32,1477.84 L739.82,1476.6 L740.32,1475.37 L740.82,1474.15 L741.32,1472.93 L741.82,1471.73 L742.32,1470.54 L742.82,1469.35 L743.32,1468.17 L743.82,1467.01 L744.32,1465.85 L744.82,1464.72 L745.33,1463.6 L745.83,1462.5 L746.33,1461.42 L746.83,1460.36 L747.33,1459.33 L747.83,1458.32 L748.33,1457.35 L748.83,1456.4 L749.33,1455.48 L749.83,1454.6 L750.33,1453.76 L750.83,1452.95 L751.33,1452.18 L751.83,1451.46 L752.34,1450.77 L752.84,1450.13 L753.34,1449.53 L753.84,1448.97 L754.34,1448.45 L754.84,1447.97 L755.34,1447.53 L755.84,1447.12 L756.34,1446.75 L756.84,1446.42 L757.34,1446.11 L757.84,1445.84 L758.34,1445.6 L758.84,1445.39 L759.35,1445.21 L759.85,1445.06 L760.35,1444.93 L760.85,1444.83 L761.35,1444.76 L761.85,1444.71 L762.35,1444.68 L762.85,1444.68 L763.35,1444.69 L763.85,1444.73 L764.35,1444.79 L764.85,1444.87 L765.35,1444.97 L765.85,1445.1 L766.35,1445.26 L766.86,1445.44 L767.36,1445.65 L767.86,1445.88 L768.36,1446.14 L768.86,1446.43 L769.36,1446.74 L769.86,1447.09 L770.36,1447.47 L770.86,1447.87 L771.36,1448.31 L771.86,1448.78 L772.36,1449.29 L772.86,1449.82 L773.36,1450.39 L773.87,1451 L774.37,1451.64 L774.87,1452.32 L775.37,1453.03 L775.87,1453.77 L776.37,1454.55 L776.87,1455.36 L777.37,1456.2 L777.87,1457.07 L778.37,1457.97 L778.87,1458.9 L779.37,1459.86 L779.87,1460.85 L780.37,1461.87 L780.88,1462.91 L781.38,1463.97 L781.88,1465.07 L782.38,1466.18 L782.88,1467.32 L783.38,1468.48 L783.88,1469.67 L784.38,1470.87 L784.88,1472.1 L785.38,1473.34 L785.88,1474.61 L786.38,1475.89 L786.88,1477.19 L787.38,1478.51 L787.89,1479.84 L788.39,1481.19 L788.89,1482.56 L789.39,1483.95 L789.89,1485.36 L790.39,1486.78 L790.89,1488.22 L791.39,1489.68 L791.89,1491.16 L792.39,1492.65 L792.89,1494.16 L793.39,1495.69 L793.89,1497.24 L794.39,1498.8 L794.9,1500.38 L795.4,1501.98 L795.9,1503.6 L796.4,1505.23 L796.9,1506.89 L797.4,1508.56 L797.9,1510.24 L798.4,1511.95 L798.9,1513.67 L799.4,1515.41 L799.9,1517.17 L800.4,1518.94 L800.9,1520.72 L801.4,1522.52 L801.91,1524.32 L802.41,1526.14 L802.91,1527.97 L803.41,1529.8 L803.91,1531.64 L804.41,1533.49 L804.91,1535.34 L805.41,1537.2 L805.91,1539.05 L806.41,1540.91 L806.91,1542.77 L807.41,1544.63 L807.91,1546.49 L808.41,1548.34 L808.92,1550.19 L809.42,1552.04 L809.92,1553.87 L810.42,1555.71 L810.92,1557.53 L811.42,1559.34 L811.92,1561.15 L812.42,1562.96 L812.92,1564.75 L813.42,1566.55 L813.92,1568.34 L814.42,1570.13 L814.92,1571.93 L815.42,1573.72 L815.93,1575.52 L816.43,1577.32 L816.93,1579.12 L817.43,1580.93 L817.93,1582.75 L818.43,1584.58 L818.93,1586.42 L819.43,1588.27 L819.93,1590.13 L820.43,1592.01 L820.93,1593.9 L821.43,1595.81 L821.93,1597.73 L822.43,1599.67 L822.94,1601.63 L823.44,1603.62 L823.94,1605.61 L824.44,1607.62 L824.94,1609.64 L825.44,1611.66 L825.94,1613.69 L826.44,1615.71 L826.94,1617.73 L827.44,1619.74 L827.94,1621.74 L828.44,1623.72 L828.94,1625.68 L829.44,1627.62 L829.95,1629.54 L830.45,1631.42 L830.95,1633.27 L831.45,1635.09 L831.95,1636.87 L832.45,1638.6 L832.95,1640.28 L833.45,1641.92 L833.95,1643.5 L834.45,1645.02 L834.95,1646.49 L835.45,1647.91 L835.95,1649.27 L836.45,1650.59 L836.96,1651.86 L837.46,1653.09 L837.96,1654.27 L838.46,1655.42 L838.96,1656.52 L839.46,1657.59 L839.96,1658.63 L840.46,1659.63 L840.96,1660.61 L841.46,1661.55 L841.96,1662.47 L842.46,1663.37 L842.96,1664.24 L843.46,1665.1 L843.97,1665.94 L844.47,1666.76 L844.97,1667.56 L845.47,1668.36 L845.97,1669.14 L846.47,1669.92 L846.97,1670.68 L847.47,1671.43 L847.97,1672.17 L848.47,1672.9 L848.97,1673.61 L849.47,1674.32 L849.97,1675.02 L850.47,1675.7 L850.98,1676.37 L851.48,1677.04 L851.98,1677.69 L852.48,1678.33 L852.98,1678.96 L853.48,1679.58 L853.98,1680.19 L854.48,1680.79 L854.98,1681.38 L855.48,1681.96 L855.98,1682.52 L856.48,1683.08 L856.98,1683.63 L857.48,1684.17 L857.98,1684.69 L858.49,1685.21 L858.99,1685.72 L859.49,1686.22 L859.99,1686.7 L860.49,1687.18 L860.99,1687.65 L861.49,1688.11 L861.99,1688.56 L862.49,1689 L862.99,1689.43 L863.49,1689.85 L863.99,1690.26 L864.49,1690.66 L864.99,1691.05 L865.5,1691.43 L866,1691.81 L866.5,1692.17 L867,1692.53 L867.5,1692.87 L868,1693.21 L868.5,1693.54 L869,1693.85 L869.5,1694.16 L870,1694.47 L870.5,1694.76 L871,1695.04 L871.5,1695.32 L872,1695.59 L872.51,1695.85 L873.01,1696.1 L873.51,1696.35 L874.01,1696.59 L874.51,1696.83 L875.01,1697.06 L875.51,1697.28 L876.01,1697.5 L876.51,1697.71 L877.01,1697.92 L877.51,1698.12 L878.01,1698.32 L878.51,1698.51 L879.01,1698.7 L879.52,1698.89 L880.02,1699.07 L880.52,1699.25 L881.02,1699.43 L881.52,1699.6 L882.02,1699.78 L882.52,1699.95 L883.02,1700.12 L883.52,1700.28 L884.02,1700.45 L884.52,1700.61 L885.02,1700.78 L885.52,1700.94 L886.02,1701.11 L886.53,1701.27 L887.03,1701.43 L887.53,1701.59 L888.03,1701.76 L888.53,1701.92 L889.03,1702.08 L889.53,1702.25 L890.03,1702.41 L890.53,1702.57 L891.03,1702.74 L891.53,1702.9 L892.03,1703.06 L892.53,1703.22 L893.03,1703.39 L893.54,1703.55 L894.04,1703.72 L894.54,1703.88 L895.04,1704.04 L895.54,1704.21 L896.04,1704.37 L896.54,1704.54 L897.04,1704.71 L897.54,1704.87 L898.04,1705.04 L898.54,1705.21 L899.04,1705.38 L899.54,1705.54 L900.04,1705.71 L900.55,1705.88 L901.05,1706.05 L901.55,1706.23 L902.05,1706.4 L902.55,1706.57 L903.05,1706.74 L903.55,1706.92 L904.05,1707.09 L904.55,1707.27 L905.05,1707.45 L905.55,1707.62 L906.05,1707.8 L906.55,1707.98 L907.05,1708.16 L907.56,1708.34 L908.06,1708.52 L908.56,1708.7 L909.06,1708.88 L909.56,1709.06 L910.06,1709.24 L910.56,1709.42 L911.06,1709.6 L911.56,1709.78 L912.06,1709.96 L912.56,1710.14 L913.06,1710.32 L913.56,1710.5 L914.06,1710.68 L914.57,1710.86 L915.07,1711.03 L915.57,1711.21 L916.07,1711.39 L916.57,1711.56 L917.07,1711.73 L917.57,1711.91 L918.07,1712.08 L918.57,1712.25 L919.07,1712.42 L919.57,1712.59 L920.07,1712.76 L920.57,1712.92 L921.07,1713.09 L921.58,1713.25 L922.08,1713.41 L922.58,1713.57 L923.08,1713.73 L923.58,1713.89 L924.08,1714.04 L924.58,1714.19 L925.08,1714.35 L925.58,1714.5 L926.08,1714.65 L926.58,1714.8 L927.08,1714.94 L927.58,1715.09 L928.08,1715.24 L928.59,1715.38 L929.09,1715.52 L929.59,1715.67 L930.09,1715.81 L930.59,1715.95 L931.09,1716.09 L931.59,1716.23 L932.09,1716.36 L932.59,1716.5 L933.09,1716.64 L933.59,1716.78 L934.09,1716.91 L934.59,1717.05 L935.09,1717.18 L935.6,1717.32 L936.1,1717.45 L936.6,1717.58 L937.1,1717.72 L937.6,1717.85 L938.1,1717.99 L938.6,1718.12 L939.1,1718.25" fill="none" stroke="#161616" stroke-width="2.6" stroke-linejoin="round" stroke-linecap="round"/>
<circle cx="586.6" cy="1711.88" r="3.3" fill="#fff" stroke="#e02ae4" stroke-width="2.8"/>
<circle cx="621.85" cy="1708.12" r="3.3" fill="#fff" stroke="#e02ae4" stroke-width="2.8"/>
<circle cx="657.1" cy="1682.93" r="3.3" fill="#fff" stroke="#e02ae4" stroke-width="2.8"/>
<circle cx="692.35" cy="1633.43" r="3.3" fill="#fff" stroke="#e02ae4" stroke-width="2.8"/>
<circle cx="727.6" cy="1489.26" r="3.3" fill="#fff" stroke="#e02ae4" stroke-width="2.8"/>
<circle cx="762.85" cy="1432.23" r="3.3" fill="#fff" stroke="#e02ae4" stroke-width="2.8"/>
<circle cx="798.1" cy="1492.15" r="3.3" fill="#fff" stroke="#e02ae4" stroke-width="2.8"/>
<circle cx="833.35" cy="1647.9" r="3.3" fill="#fff" stroke="#e02ae4" stroke-width="2.8"/>
<circle cx="868.6" cy="1684.96" r="3.3" fill="#fff" stroke="#e02ae4" stroke-width="2.8"/>
<circle cx="903.85" cy="1707.25" r="3.3" fill="#fff" stroke="#e02ae4" stroke-width="2.8"/>
<circle cx="939.1" cy="1715.65" r="3.3" fill="#fff" stroke="#e02ae4" stroke-width="2.8"/>
<line x1="587.7" y1="1443.4" x2="629" y2="1443.4" stroke="#161616" stroke-width="2.6"/>
<text x="634.7" y="1449.3" font-size="17.9" fill="#262626">Simulation</text>
<circle cx="609.2" cy="1468.2" r="3.3" fill="#fff" stroke="#e02ae4" stroke-width="2.8"/>
<text x="634.7" y="1473" font-size="17.9" fill="#262626">Measurement</text>
<text transform="translate(524.4,1565) rotate(-90)" text-anchor="middle" font-size="19.6" fill="#262626">Normalized intensity</text>
<text x="762.8" y="1779.1" text-anchor="middle" font-size="19.3" fill="#262626"><tspan font-style="italic">z</tspan> (mm)</text>
<text x="768.3" y="1813.5" text-anchor="middle" font-size="27" font-weight="bold" fill="#000">(<tspan font-style="italic">j</tspan>)</text>
</g>
<g class="k">
<path d="M74.3,1863.6 V2189.5 H877.3" fill="none" stroke="#505050" stroke-width="1.6"/>
<line x1="67.8" y1="2189" x2="74.3" y2="2189" stroke="#505050" stroke-width="1.5"/>
<text x="62" y="2195" text-anchor="end" font-size="18" fill="#262626">0.0</text>
<line x1="70.8" y1="2158.02" x2="74.3" y2="2158.02" stroke="#505050" stroke-width="1.5"/>
<line x1="67.8" y1="2127.04" x2="74.3" y2="2127.04" stroke="#505050" stroke-width="1.5"/>
<text x="62" y="2133.04" text-anchor="end" font-size="18" fill="#262626">0.2</text>
<line x1="70.8" y1="2096.06" x2="74.3" y2="2096.06" stroke="#505050" stroke-width="1.5"/>
<line x1="67.8" y1="2065.08" x2="74.3" y2="2065.08" stroke="#505050" stroke-width="1.5"/>
<text x="62" y="2071.08" text-anchor="end" font-size="18" fill="#262626">0.4</text>
<line x1="70.8" y1="2034.1" x2="74.3" y2="2034.1" stroke="#505050" stroke-width="1.5"/>
<line x1="67.8" y1="2003.12" x2="74.3" y2="2003.12" stroke="#505050" stroke-width="1.5"/>
<text x="62" y="2009.12" text-anchor="end" font-size="18" fill="#262626">0.6</text>
<line x1="70.8" y1="1972.14" x2="74.3" y2="1972.14" stroke="#505050" stroke-width="1.5"/>
<line x1="67.8" y1="1941.16" x2="74.3" y2="1941.16" stroke="#505050" stroke-width="1.5"/>
<text x="62" y="1947.16" text-anchor="end" font-size="18" fill="#262626">0.8</text>
<line x1="70.8" y1="1910.18" x2="74.3" y2="1910.18" stroke="#505050" stroke-width="1.5"/>
<line x1="67.8" y1="1879.2" x2="74.3" y2="1879.2" stroke="#505050" stroke-width="1.5"/>
<text x="62" y="1885.2" text-anchor="end" font-size="18" fill="#262626">1.0</text>
<line x1="131" y1="2189.5" x2="131" y2="2195.5" stroke="#505050" stroke-width="1.5"/>
<text x="131" y="2216.2" text-anchor="middle" font-size="18" fill="#262626">0</text>
<line x1="245.75" y1="2189.5" x2="245.75" y2="2195.5" stroke="#505050" stroke-width="1.5"/>
<text x="245.75" y="2216.2" text-anchor="middle" font-size="18" fill="#262626">5</text>
<line x1="360.5" y1="2189.5" x2="360.5" y2="2195.5" stroke="#505050" stroke-width="1.5"/>
<text x="360.5" y="2216.2" text-anchor="middle" font-size="18" fill="#262626">10</text>
<line x1="475.25" y1="2189.5" x2="475.25" y2="2195.5" stroke="#505050" stroke-width="1.5"/>
<text x="475.25" y="2216.2" text-anchor="middle" font-size="18" fill="#262626">15</text>
<line x1="590" y1="2189.5" x2="590" y2="2195.5" stroke="#505050" stroke-width="1.5"/>
<text x="590" y="2216.2" text-anchor="middle" font-size="18" fill="#262626">20</text>
<line x1="704.75" y1="2189.5" x2="704.75" y2="2195.5" stroke="#505050" stroke-width="1.5"/>
<text x="704.75" y="2216.2" text-anchor="middle" font-size="18" fill="#262626">25</text>
<line x1="819.5" y1="2189.5" x2="819.5" y2="2195.5" stroke="#505050" stroke-width="1.5"/>
<text x="819.5" y="2216.2" text-anchor="middle" font-size="18" fill="#262626">30</text>
<line x1="188.38" y1="2189.5" x2="188.38" y2="2193" stroke="#505050" stroke-width="1.5"/>
<line x1="303.12" y1="2189.5" x2="303.12" y2="2193" stroke="#505050" stroke-width="1.5"/>
<line x1="417.88" y1="2189.5" x2="417.88" y2="2193" stroke="#505050" stroke-width="1.5"/>
<line x1="532.62" y1="2189.5" x2="532.62" y2="2193" stroke="#505050" stroke-width="1.5"/>
<line x1="647.38" y1="2189.5" x2="647.38" y2="2193" stroke="#505050" stroke-width="1.5"/>
<line x1="762.12" y1="2189.5" x2="762.12" y2="2193" stroke="#505050" stroke-width="1.5"/>
<line x1="876.88" y1="2189.5" x2="876.88" y2="2193" stroke="#505050" stroke-width="1.5"/>
<circle cx="131" cy="1879.2" r="3.7" fill="none" stroke="#111" stroke-width="2.4"/>
<circle cx="245.75" cy="1881.68" r="3.7" fill="none" stroke="#111" stroke-width="2.4"/>
<circle cx="360.5" cy="1884.78" r="3.7" fill="none" stroke="#111" stroke-width="2.4"/>
<circle cx="475.25" cy="1884.78" r="3.7" fill="none" stroke="#111" stroke-width="2.4"/>
<circle cx="590" cy="1888.18" r="3.7" fill="none" stroke="#111" stroke-width="2.4"/>
<circle cx="704.75" cy="1887.56" r="3.7" fill="none" stroke="#111" stroke-width="2.4"/>
<circle cx="819.5" cy="1890.97" r="3.7" fill="none" stroke="#111" stroke-width="2.4"/>
<circle cx="131" cy="2059.5" r="3.7" fill="none" stroke="#e01818" stroke-width="2.4"/>
<circle cx="245.75" cy="2062.29" r="3.7" fill="none" stroke="#e01818" stroke-width="2.4"/>
<circle cx="360.5" cy="2071.59" r="3.7" fill="none" stroke="#e01818" stroke-width="2.4"/>
<circle cx="475.25" cy="2090.17" r="3.7" fill="none" stroke="#e01818" stroke-width="2.4"/>
<circle cx="590" cy="2134.17" r="3.7" fill="none" stroke="#e01818" stroke-width="2.4"/>
<circle cx="704.75" cy="2162.05" r="3.7" fill="none" stroke="#e01818" stroke-width="2.4"/>
<circle cx="819.5" cy="2183.73" r="3.7" fill="none" stroke="#e01818" stroke-width="2.4"/>
<path d="M131,1879.2 L245.75,1885.09 L360.5,1890.04 L475.25,1894.07 L590,1891.59 L704.75,1894.38 L819.5,1897.17" fill="none" stroke="#111" stroke-width="2.5" stroke-linejoin="round"/>
<path d="M131,2059.5 L245.75,2066.63 L360.5,2078.71 L475.25,2094.82 L590,2111.86 L704.75,2134.48 L819.5,2161.74" fill="none" stroke="#e01818" stroke-width="2.5" stroke-linejoin="round"/>
<line x1="108.1" y1="1952.4" x2="154" y2="1952.4" stroke="#d01828" stroke-width="2.4"/>
<line x1="108.1" y1="1977.6" x2="154" y2="1977.6" stroke="#111" stroke-width="2.4"/>
<text x="159.3" y="1959.4" font-size="19.6" fill="#262626">Cross structure</text>
<text x="159.3" y="1983.8" font-size="19.6" fill="#262626">Hexagonal structure</text>
<text transform="translate(18.3,1998.5) rotate(-90)" text-anchor="middle" font-size="17.7" fill="#262626">Normalized intensity magnitude</text>
<text x="475.6" y="2248.3" text-anchor="middle" font-size="19.2" fill="#262626">Angle (°)</text>
<text x="469.6" y="2288" text-anchor="middle" font-size="27" font-weight="bold" fill="#000">(<tspan font-style="italic">k</tspan>)</text>
</g>
<line x1="500.6" y1="1" x2="500.6" y2="1822" stroke="#e8201e" stroke-width="3.3" stroke-dasharray="21.5 11.22"/>
<line x1="15.2" y1="1826" x2="987" y2="1826" stroke="#e01a24" stroke-width="3" stroke-dasharray="21.5 11.25"/>
</svg>
</body></html>
